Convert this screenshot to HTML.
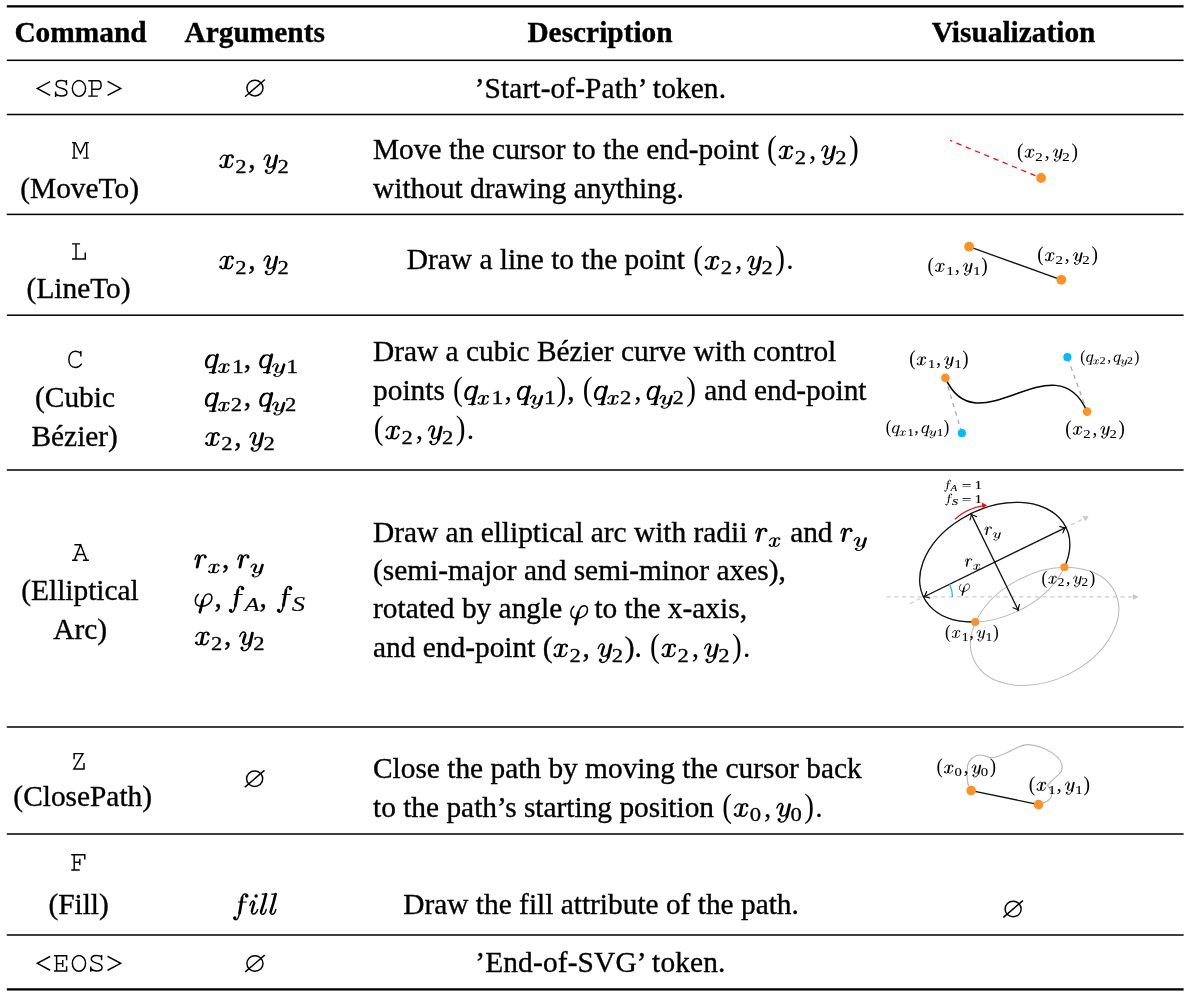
<!DOCTYPE html>
<html><head><meta charset="utf-8"><style>
html,body{margin:0;padding:0;background:#fff;}
body{width:1193px;height:1005px;overflow:hidden;}
svg{display:block;will-change:transform;}
text{fill:#000;font-family:"Liberation Serif",serif;white-space:pre;stroke:#000;stroke-width:0.35px;}
</style></head><body>
<svg width="1193" height="1005" viewBox="0 0 1193 1005">
<rect x="6.8" y="5.20" width="1176.80" height="2.3" fill="#000"/>
<rect x="6.8" y="59.55" width="1176.80" height="1.5" fill="#000"/>
<rect x="6.8" y="113.75" width="1176.80" height="1.5" fill="#000"/>
<rect x="6.8" y="213.65" width="1176.80" height="1.5" fill="#000"/>
<rect x="6.8" y="314.45" width="1176.80" height="1.5" fill="#000"/>
<rect x="6.8" y="469.25" width="1176.80" height="1.5" fill="#000"/>
<rect x="6.8" y="726.25" width="1176.80" height="1.5" fill="#000"/>
<rect x="6.8" y="833.25" width="1176.80" height="1.5" fill="#000"/>
<rect x="6.8" y="934.25" width="1176.80" height="1.5" fill="#000"/>
<rect x="6.8" y="988.25" width="1176.80" height="2.3" fill="#000"/>
<text x="80.50" y="42.00" font-size="29.38" text-anchor="middle" font-weight="bold">Command</text>
<text x="254.70" y="42.00" font-size="29.38" text-anchor="middle" font-weight="bold">Arguments</text>
<text x="600.00" y="42.00" font-size="29.38" text-anchor="middle" font-weight="bold">Description</text>
<text x="1013.60" y="42.00" font-size="29.38" text-anchor="middle" font-weight="bold">Visualization</text>
<g fill="none" stroke="#000" stroke-width="1.45" stroke-linecap="square" stroke-linejoin="miter"><path transform="translate(43.84,96.80)" d="M5.66,-14.9 L-6.54,-8.4 L5.66,-1.8"/><path transform="translate(61.42,96.80)" d="M5.0,-12.3 L5.0,-16.0 M5.0,-14.6 C3.8,-15.8 2.0,-16.3 0,-16.3 C-3.5,-16.3 -5.3,-14.6 -5.3,-12.6 C-5.3,-10.2 -3.2,-9.4 0,-8.6 C3.6,-7.8 5.5,-6.8 5.5,-4.3 C5.5,-1.9 3.3,-0.8 0,-0.8 C-2.6,-0.8 -4.6,-1.6 -5.8,-3.2 M-5.8,-4.5 L-5.8,-0.6"/><path transform="translate(79.00,96.80)" d="M6.55,-8.35 A6.6,7.9 0 1 1 -6.65,-8.35 A6.6,7.9 0 1 1 6.55,-8.35"/><path transform="translate(96.58,96.80)" d="M-7.6,-16.1 L1.5,-16.1 C3.6,-16.1 4.5,-14 4.5,-11.8 C4.5,-9.6 3.5,-7.5 1.5,-7.5 L-4.7,-7.5 M-4.7,-16.1 L-4.7,-0.7 M-7.6,-0.7 L0.5,-0.7"/><path transform="translate(114.16,96.80)" d="M-5.96,-15.1 L6.54,-8.4 L-5.96,-1.8"/></g>
<g stroke="#000" stroke-width="1.45" fill="none" stroke-linecap="round"><ellipse cx="254.95" cy="88.1" rx="8.05" ry="7.81"/><line x1="245.55" y1="96.20" x2="264.40" y2="80.00"/></g>
<text x="600.35" y="97.70" font-size="29.38" text-anchor="middle" textLength="251.25">’Start-of-Path’ token.</text>
<g fill="none" stroke="#000" stroke-width="1.45" stroke-linecap="square" stroke-linejoin="miter"><path transform="translate(80.40,158.90)" d="M-7.7,-16.3 L-5.0,-16.3 L0,-5.7 L5.0,-16.3 L7.7,-16.3 M-6.3,-16.3 L-6.3,-0.8 M6.3,-16.3 L6.3,-0.8 M-7.7,-0.8 L-3.45,-0.8 M3.45,-0.8 L7.7,-0.8"/></g>
<text x="79.60" y="197.90" font-size="29.38" text-anchor="middle">(MoveTo)</text>
<g transform="translate(218.30,167.80) scale(29.380,29.380)" fill="none" stroke="#000" stroke-linecap="round"><path d="M0.068,-0.289 C0.10,-0.36 0.16,-0.432 0.225,-0.432 C0.27,-0.432 0.30,-0.41 0.310,-0.378" stroke-width="0.0460"/><path d="M0.312,-0.372 C0.29,-0.27 0.265,-0.16 0.248,-0.062" stroke-width="0.0980"/><path d="M0.250,-0.06 C0.23,-0.02 0.19,-0.010 0.140,-0.010 C0.105,-0.010 0.085,-0.03 0.080,-0.06" stroke-width="0.0460"/><circle cx="0.08" cy="-0.072" r="0.0500" fill="#000" stroke="none"/><path d="M0.252,-0.06 C0.27,-0.025 0.30,-0.010 0.334,-0.010 C0.41,-0.010 0.47,-0.09 0.487,-0.153" stroke-width="0.0460"/><path d="M0.308,-0.37 C0.33,-0.41 0.38,-0.436 0.432,-0.436 C0.47,-0.436 0.492,-0.415 0.490,-0.39" stroke-width="0.0460"/><circle cx="0.485" cy="-0.368" r="0.0490" fill="#000" stroke="none"/></g>
<text transform="translate(240.94,172.62) scale(1.1,0.95)" font-size="20.57" text-anchor="middle" style="stroke-width:0.3px">2</text>
<text x="248.27" y="167.80" font-size="29.38">, </text>
<g transform="translate(262.96,167.80) scale(29.380,29.380)" fill="none" stroke="#000" stroke-linecap="round"><path d="M0.036,-0.286 C0.07,-0.38 0.12,-0.442 0.17,-0.442 C0.215,-0.442 0.238,-0.41 0.228,-0.35" stroke-width="0.0460"/><path d="M0.226,-0.345 C0.20,-0.25 0.16,-0.16 0.155,-0.10" stroke-width="0.0882"/><path d="M0.155,-0.10 C0.150,-0.04 0.175,-0.016 0.222,-0.016 C0.28,-0.016 0.33,-0.05 0.352,-0.085" stroke-width="0.0450"/><path d="M0.468,-0.405 L0.372,0.015" stroke-width="0.0980"/><path d="M0.374,0.01 C0.345,0.12 0.265,0.19 0.185,0.19 C0.135,0.19 0.105,0.165 0.100,0.125" stroke-width="0.0450"/><circle cx="0.112" cy="0.105" r="0.0540" fill="#000" stroke="none"/></g>
<text transform="translate(283.21,172.62) scale(1.1,0.95)" font-size="20.57" text-anchor="middle" style="stroke-width:0.3px">2</text>
<text x="373.00" y="158.90" font-size="29.38">Move the cursor to the end-point </text>
<text transform="translate(771.92,158.90) scale(1.0,1.12)" font-size="29.38" text-anchor="middle" style="stroke-width:0.0px">(</text>
<g transform="translate(777.63,158.90) scale(29.380,29.380)" fill="none" stroke="#000" stroke-linecap="round"><path d="M0.068,-0.289 C0.10,-0.36 0.16,-0.432 0.225,-0.432 C0.27,-0.432 0.30,-0.41 0.310,-0.378" stroke-width="0.0460"/><path d="M0.312,-0.372 C0.29,-0.27 0.265,-0.16 0.248,-0.062" stroke-width="0.0980"/><path d="M0.250,-0.06 C0.23,-0.02 0.19,-0.010 0.140,-0.010 C0.105,-0.010 0.085,-0.03 0.080,-0.06" stroke-width="0.0460"/><circle cx="0.08" cy="-0.072" r="0.0500" fill="#000" stroke="none"/><path d="M0.252,-0.06 C0.27,-0.025 0.30,-0.010 0.334,-0.010 C0.41,-0.010 0.47,-0.09 0.487,-0.153" stroke-width="0.0460"/><path d="M0.308,-0.37 C0.33,-0.41 0.38,-0.436 0.432,-0.436 C0.47,-0.436 0.492,-0.415 0.490,-0.39" stroke-width="0.0460"/><circle cx="0.485" cy="-0.368" r="0.0490" fill="#000" stroke="none"/></g>
<text transform="translate(800.28,163.72) scale(1.1,0.95)" font-size="20.57" text-anchor="middle" style="stroke-width:0.3px">2</text>
<text x="812.56" y="158.90" font-size="29.38" text-anchor="middle" style="stroke-width:0.12px">,</text>
<g transform="translate(820.66,158.90) scale(29.380,29.380)" fill="none" stroke="#000" stroke-linecap="round"><path d="M0.036,-0.286 C0.07,-0.38 0.12,-0.442 0.17,-0.442 C0.215,-0.442 0.238,-0.41 0.228,-0.35" stroke-width="0.0460"/><path d="M0.226,-0.345 C0.20,-0.25 0.16,-0.16 0.155,-0.10" stroke-width="0.0882"/><path d="M0.155,-0.10 C0.150,-0.04 0.175,-0.016 0.222,-0.016 C0.28,-0.016 0.33,-0.05 0.352,-0.085" stroke-width="0.0450"/><path d="M0.468,-0.405 L0.372,0.015" stroke-width="0.0980"/><path d="M0.374,0.01 C0.345,0.12 0.265,0.19 0.185,0.19 C0.135,0.19 0.105,0.165 0.100,0.125" stroke-width="0.0450"/><circle cx="0.112" cy="0.105" r="0.0540" fill="#000" stroke="none"/></g>
<text transform="translate(840.92,163.72) scale(1.1,0.95)" font-size="20.57" text-anchor="middle" style="stroke-width:0.3px">2</text>
<text transform="translate(853.95,158.90) scale(1.0,1.12)" font-size="29.38" text-anchor="middle" style="stroke-width:0.0px">)</text>
<text x="373.00" y="197.90" font-size="29.38">without drawing anything.</text>
<g fill="none" stroke="#000" stroke-width="1.45" stroke-linecap="square" stroke-linejoin="miter"><path transform="translate(80.20,259.75)" d="M-7.5,-15.9 L-0.85,-15.9 M-4.2,-15.9 L-4.2,-0.8 M-7.5,-0.8 L5.05,-0.8 L5.05,-6.6"/></g>
<text x="78.60" y="298.30" font-size="29.38" text-anchor="middle">(LineTo)</text>
<g transform="translate(218.30,269.00) scale(29.380,29.380)" fill="none" stroke="#000" stroke-linecap="round"><path d="M0.068,-0.289 C0.10,-0.36 0.16,-0.432 0.225,-0.432 C0.27,-0.432 0.30,-0.41 0.310,-0.378" stroke-width="0.0460"/><path d="M0.312,-0.372 C0.29,-0.27 0.265,-0.16 0.248,-0.062" stroke-width="0.0980"/><path d="M0.250,-0.06 C0.23,-0.02 0.19,-0.010 0.140,-0.010 C0.105,-0.010 0.085,-0.03 0.080,-0.06" stroke-width="0.0460"/><circle cx="0.08" cy="-0.072" r="0.0500" fill="#000" stroke="none"/><path d="M0.252,-0.06 C0.27,-0.025 0.30,-0.010 0.334,-0.010 C0.41,-0.010 0.47,-0.09 0.487,-0.153" stroke-width="0.0460"/><path d="M0.308,-0.37 C0.33,-0.41 0.38,-0.436 0.432,-0.436 C0.47,-0.436 0.492,-0.415 0.490,-0.39" stroke-width="0.0460"/><circle cx="0.485" cy="-0.368" r="0.0490" fill="#000" stroke="none"/></g>
<text transform="translate(240.94,273.82) scale(1.1,0.95)" font-size="20.57" text-anchor="middle" style="stroke-width:0.3px">2</text>
<text x="248.27" y="269.00" font-size="29.38">, </text>
<g transform="translate(262.96,269.00) scale(29.380,29.380)" fill="none" stroke="#000" stroke-linecap="round"><path d="M0.036,-0.286 C0.07,-0.38 0.12,-0.442 0.17,-0.442 C0.215,-0.442 0.238,-0.41 0.228,-0.35" stroke-width="0.0460"/><path d="M0.226,-0.345 C0.20,-0.25 0.16,-0.16 0.155,-0.10" stroke-width="0.0882"/><path d="M0.155,-0.10 C0.150,-0.04 0.175,-0.016 0.222,-0.016 C0.28,-0.016 0.33,-0.05 0.352,-0.085" stroke-width="0.0450"/><path d="M0.468,-0.405 L0.372,0.015" stroke-width="0.0980"/><path d="M0.374,0.01 C0.345,0.12 0.265,0.19 0.185,0.19 C0.135,0.19 0.105,0.165 0.100,0.125" stroke-width="0.0450"/><circle cx="0.112" cy="0.105" r="0.0540" fill="#000" stroke="none"/></g>
<text transform="translate(283.21,273.82) scale(1.1,0.95)" font-size="20.57" text-anchor="middle" style="stroke-width:0.3px">2</text>
<text x="406.80" y="269.30" font-size="29.38">Draw a line to the point </text>
<text transform="translate(698.03,269.30) scale(1.0,1.12)" font-size="29.38" text-anchor="middle" style="stroke-width:0.0px">(</text>
<g transform="translate(703.74,269.30) scale(29.380,29.380)" fill="none" stroke="#000" stroke-linecap="round"><path d="M0.068,-0.289 C0.10,-0.36 0.16,-0.432 0.225,-0.432 C0.27,-0.432 0.30,-0.41 0.310,-0.378" stroke-width="0.0460"/><path d="M0.312,-0.372 C0.29,-0.27 0.265,-0.16 0.248,-0.062" stroke-width="0.0980"/><path d="M0.250,-0.06 C0.23,-0.02 0.19,-0.010 0.140,-0.010 C0.105,-0.010 0.085,-0.03 0.080,-0.06" stroke-width="0.0460"/><circle cx="0.08" cy="-0.072" r="0.0500" fill="#000" stroke="none"/><path d="M0.252,-0.06 C0.27,-0.025 0.30,-0.010 0.334,-0.010 C0.41,-0.010 0.47,-0.09 0.487,-0.153" stroke-width="0.0460"/><path d="M0.308,-0.37 C0.33,-0.41 0.38,-0.436 0.432,-0.436 C0.47,-0.436 0.492,-0.415 0.490,-0.39" stroke-width="0.0460"/><circle cx="0.485" cy="-0.368" r="0.0490" fill="#000" stroke="none"/></g>
<text transform="translate(726.39,274.12) scale(1.1,0.95)" font-size="20.57" text-anchor="middle" style="stroke-width:0.3px">2</text>
<text x="738.67" y="269.30" font-size="29.38" text-anchor="middle" style="stroke-width:0.12px">,</text>
<g transform="translate(746.77,269.30) scale(29.380,29.380)" fill="none" stroke="#000" stroke-linecap="round"><path d="M0.036,-0.286 C0.07,-0.38 0.12,-0.442 0.17,-0.442 C0.215,-0.442 0.238,-0.41 0.228,-0.35" stroke-width="0.0460"/><path d="M0.226,-0.345 C0.20,-0.25 0.16,-0.16 0.155,-0.10" stroke-width="0.0882"/><path d="M0.155,-0.10 C0.150,-0.04 0.175,-0.016 0.222,-0.016 C0.28,-0.016 0.33,-0.05 0.352,-0.085" stroke-width="0.0450"/><path d="M0.468,-0.405 L0.372,0.015" stroke-width="0.0980"/><path d="M0.374,0.01 C0.345,0.12 0.265,0.19 0.185,0.19 C0.135,0.19 0.105,0.165 0.100,0.125" stroke-width="0.0450"/><circle cx="0.112" cy="0.105" r="0.0540" fill="#000" stroke="none"/></g>
<text transform="translate(767.03,274.12) scale(1.1,0.95)" font-size="20.57" text-anchor="middle" style="stroke-width:0.3px">2</text>
<text transform="translate(780.06,269.30) scale(1.0,1.12)" font-size="29.38" text-anchor="middle" style="stroke-width:0.0px">)</text>
<text x="789.86" y="269.30" font-size="29.38" text-anchor="middle" style="stroke-width:0.12px">.</text>
<g fill="none" stroke="#000" stroke-width="1.45" stroke-linecap="square" stroke-linejoin="miter"><path transform="translate(75.20,367.90)" d="M5.65,-12.2 L5.65,-16.2 M5.65,-14.4 C4.3,-16 2.5,-16.65 0.2,-16.65 C-4,-16.65 -6.35,-12.9 -6.35,-8.5 C-6.35,-3.7 -3.8,-0.45 0.2,-0.45 C2.7,-0.45 4.6,-1.6 6.0,-3.6"/></g>
<text x="75.00" y="406.60" font-size="29.38" text-anchor="middle">(Cubic</text>
<text x="74.70" y="445.50" font-size="29.38" text-anchor="middle">Bézier)</text>
<g transform="translate(204.20,367.90) scale(29.380,29.380)" fill="none" stroke="#000" stroke-linecap="round"><path d="M0.405,-0.36 C0.385,-0.42 0.335,-0.445 0.29,-0.445 C0.15,-0.445 0.06,-0.27 0.06,-0.15 C0.06,-0.07 0.105,-0.014 0.18,-0.014 C0.26,-0.014 0.33,-0.08 0.37,-0.13" stroke-width="0.0460"/><path d="M0.19,-0.415 C0.11,-0.35 0.065,-0.24 0.065,-0.15 C0.065,-0.09 0.08,-0.05 0.11,-0.03" stroke-width="0.0833"/><path d="M0.452,-0.44 L0.302,0.155" stroke-width="0.0980"/><path d="M0.175,0.163 L0.395,0.163" stroke-width="0.0420"/></g>
<g transform="translate(217.31,372.72) scale(23.355,20.566)" fill="none" stroke="#000" stroke-linecap="round"><path d="M0.068,-0.289 C0.10,-0.36 0.16,-0.432 0.225,-0.432 C0.27,-0.432 0.30,-0.41 0.310,-0.378" stroke-width="0.0460"/><path d="M0.312,-0.372 C0.29,-0.27 0.265,-0.16 0.248,-0.062" stroke-width="0.0980"/><path d="M0.250,-0.06 C0.23,-0.02 0.19,-0.010 0.140,-0.010 C0.105,-0.010 0.085,-0.03 0.080,-0.06" stroke-width="0.0460"/><circle cx="0.08" cy="-0.072" r="0.0500" fill="#000" stroke="none"/><path d="M0.252,-0.06 C0.27,-0.025 0.30,-0.010 0.334,-0.010 C0.41,-0.010 0.47,-0.09 0.487,-0.153" stroke-width="0.0460"/><path d="M0.308,-0.37 C0.33,-0.41 0.38,-0.436 0.432,-0.436 C0.47,-0.436 0.492,-0.415 0.490,-0.39" stroke-width="0.0460"/><circle cx="0.485" cy="-0.368" r="0.0490" fill="#000" stroke="none"/></g>
<text transform="translate(237.95,372.72) scale(1.15,0.95)" font-size="20.57" text-anchor="middle" style="stroke-width:0.3px">1</text>
<text x="243.83" y="367.90" font-size="29.38">, </text>
<g transform="translate(258.52,367.90) scale(29.380,29.380)" fill="none" stroke="#000" stroke-linecap="round"><path d="M0.405,-0.36 C0.385,-0.42 0.335,-0.445 0.29,-0.445 C0.15,-0.445 0.06,-0.27 0.06,-0.15 C0.06,-0.07 0.105,-0.014 0.18,-0.014 C0.26,-0.014 0.33,-0.08 0.37,-0.13" stroke-width="0.0460"/><path d="M0.19,-0.415 C0.11,-0.35 0.065,-0.24 0.065,-0.15 C0.065,-0.09 0.08,-0.05 0.11,-0.03" stroke-width="0.0833"/><path d="M0.452,-0.44 L0.302,0.155" stroke-width="0.0980"/><path d="M0.175,0.163 L0.395,0.163" stroke-width="0.0420"/></g>
<g transform="translate(271.62,372.72) scale(26.845,20.566)" fill="none" stroke="#000" stroke-linecap="round"><path d="M0.036,-0.286 C0.07,-0.38 0.12,-0.442 0.17,-0.442 C0.215,-0.442 0.238,-0.41 0.228,-0.35" stroke-width="0.0460"/><path d="M0.226,-0.345 C0.20,-0.25 0.16,-0.16 0.155,-0.10" stroke-width="0.0882"/><path d="M0.155,-0.10 C0.150,-0.04 0.175,-0.016 0.222,-0.016 C0.28,-0.016 0.33,-0.05 0.352,-0.085" stroke-width="0.0450"/><path d="M0.468,-0.405 L0.372,0.015" stroke-width="0.0980"/><path d="M0.374,0.01 C0.345,0.12 0.265,0.19 0.185,0.19 C0.135,0.19 0.105,0.165 0.100,0.125" stroke-width="0.0450"/><circle cx="0.112" cy="0.105" r="0.0540" fill="#000" stroke="none"/></g>
<text transform="translate(292.08,372.72) scale(1.15,0.95)" font-size="20.57" text-anchor="middle" style="stroke-width:0.3px">1</text>
<g transform="translate(204.20,406.30) scale(29.380,29.380)" fill="none" stroke="#000" stroke-linecap="round"><path d="M0.405,-0.36 C0.385,-0.42 0.335,-0.445 0.29,-0.445 C0.15,-0.445 0.06,-0.27 0.06,-0.15 C0.06,-0.07 0.105,-0.014 0.18,-0.014 C0.26,-0.014 0.33,-0.08 0.37,-0.13" stroke-width="0.0460"/><path d="M0.19,-0.415 C0.11,-0.35 0.065,-0.24 0.065,-0.15 C0.065,-0.09 0.08,-0.05 0.11,-0.03" stroke-width="0.0833"/><path d="M0.452,-0.44 L0.302,0.155" stroke-width="0.0980"/><path d="M0.175,0.163 L0.395,0.163" stroke-width="0.0420"/></g>
<g transform="translate(217.31,411.12) scale(23.355,20.566)" fill="none" stroke="#000" stroke-linecap="round"><path d="M0.068,-0.289 C0.10,-0.36 0.16,-0.432 0.225,-0.432 C0.27,-0.432 0.30,-0.41 0.310,-0.378" stroke-width="0.0460"/><path d="M0.312,-0.372 C0.29,-0.27 0.265,-0.16 0.248,-0.062" stroke-width="0.0980"/><path d="M0.250,-0.06 C0.23,-0.02 0.19,-0.010 0.140,-0.010 C0.105,-0.010 0.085,-0.03 0.080,-0.06" stroke-width="0.0460"/><circle cx="0.08" cy="-0.072" r="0.0500" fill="#000" stroke="none"/><path d="M0.252,-0.06 C0.27,-0.025 0.30,-0.010 0.334,-0.010 C0.41,-0.010 0.47,-0.09 0.487,-0.153" stroke-width="0.0460"/><path d="M0.308,-0.37 C0.33,-0.41 0.38,-0.436 0.432,-0.436 C0.47,-0.436 0.492,-0.415 0.490,-0.39" stroke-width="0.0460"/><circle cx="0.485" cy="-0.368" r="0.0490" fill="#000" stroke="none"/></g>
<text transform="translate(236.51,411.12) scale(1.1,0.95)" font-size="20.57" text-anchor="middle" style="stroke-width:0.3px">2</text>
<text x="243.83" y="406.30" font-size="29.38">, </text>
<g transform="translate(258.52,406.30) scale(29.380,29.380)" fill="none" stroke="#000" stroke-linecap="round"><path d="M0.405,-0.36 C0.385,-0.42 0.335,-0.445 0.29,-0.445 C0.15,-0.445 0.06,-0.27 0.06,-0.15 C0.06,-0.07 0.105,-0.014 0.18,-0.014 C0.26,-0.014 0.33,-0.08 0.37,-0.13" stroke-width="0.0460"/><path d="M0.19,-0.415 C0.11,-0.35 0.065,-0.24 0.065,-0.15 C0.065,-0.09 0.08,-0.05 0.11,-0.03" stroke-width="0.0833"/><path d="M0.452,-0.44 L0.302,0.155" stroke-width="0.0980"/><path d="M0.175,0.163 L0.395,0.163" stroke-width="0.0420"/></g>
<g transform="translate(271.62,411.12) scale(26.845,20.566)" fill="none" stroke="#000" stroke-linecap="round"><path d="M0.036,-0.286 C0.07,-0.38 0.12,-0.442 0.17,-0.442 C0.215,-0.442 0.238,-0.41 0.228,-0.35" stroke-width="0.0460"/><path d="M0.226,-0.345 C0.20,-0.25 0.16,-0.16 0.155,-0.10" stroke-width="0.0882"/><path d="M0.155,-0.10 C0.150,-0.04 0.175,-0.016 0.222,-0.016 C0.28,-0.016 0.33,-0.05 0.352,-0.085" stroke-width="0.0450"/><path d="M0.468,-0.405 L0.372,0.015" stroke-width="0.0980"/><path d="M0.374,0.01 C0.345,0.12 0.265,0.19 0.185,0.19 C0.135,0.19 0.105,0.165 0.100,0.125" stroke-width="0.0450"/><circle cx="0.112" cy="0.105" r="0.0540" fill="#000" stroke="none"/></g>
<text transform="translate(290.64,411.12) scale(1.1,0.95)" font-size="20.57" text-anchor="middle" style="stroke-width:0.3px">2</text>
<g transform="translate(204.20,445.60) scale(29.380,29.380)" fill="none" stroke="#000" stroke-linecap="round"><path d="M0.068,-0.289 C0.10,-0.36 0.16,-0.432 0.225,-0.432 C0.27,-0.432 0.30,-0.41 0.310,-0.378" stroke-width="0.0460"/><path d="M0.312,-0.372 C0.29,-0.27 0.265,-0.16 0.248,-0.062" stroke-width="0.0980"/><path d="M0.250,-0.06 C0.23,-0.02 0.19,-0.010 0.140,-0.010 C0.105,-0.010 0.085,-0.03 0.080,-0.06" stroke-width="0.0460"/><circle cx="0.08" cy="-0.072" r="0.0500" fill="#000" stroke="none"/><path d="M0.252,-0.06 C0.27,-0.025 0.30,-0.010 0.334,-0.010 C0.41,-0.010 0.47,-0.09 0.487,-0.153" stroke-width="0.0460"/><path d="M0.308,-0.37 C0.33,-0.41 0.38,-0.436 0.432,-0.436 C0.47,-0.436 0.492,-0.415 0.490,-0.39" stroke-width="0.0460"/><circle cx="0.485" cy="-0.368" r="0.0490" fill="#000" stroke="none"/></g>
<text transform="translate(226.84,450.42) scale(1.1,0.95)" font-size="20.57" text-anchor="middle" style="stroke-width:0.3px">2</text>
<text x="234.17" y="445.60" font-size="29.38">, </text>
<g transform="translate(248.86,445.60) scale(29.380,29.380)" fill="none" stroke="#000" stroke-linecap="round"><path d="M0.036,-0.286 C0.07,-0.38 0.12,-0.442 0.17,-0.442 C0.215,-0.442 0.238,-0.41 0.228,-0.35" stroke-width="0.0460"/><path d="M0.226,-0.345 C0.20,-0.25 0.16,-0.16 0.155,-0.10" stroke-width="0.0882"/><path d="M0.155,-0.10 C0.150,-0.04 0.175,-0.016 0.222,-0.016 C0.28,-0.016 0.33,-0.05 0.352,-0.085" stroke-width="0.0450"/><path d="M0.468,-0.405 L0.372,0.015" stroke-width="0.0980"/><path d="M0.374,0.01 C0.345,0.12 0.265,0.19 0.185,0.19 C0.135,0.19 0.105,0.165 0.100,0.125" stroke-width="0.0450"/><circle cx="0.112" cy="0.105" r="0.0540" fill="#000" stroke="none"/></g>
<text transform="translate(269.11,450.42) scale(1.1,0.95)" font-size="20.57" text-anchor="middle" style="stroke-width:0.3px">2</text>
<text x="373.00" y="360.70" font-size="29.38">Draw a cubic Bézier curve with control</text>
<text x="373.00" y="399.60" font-size="29.38">points </text>
<text transform="translate(457.87,399.60) scale(1.0,1.12)" font-size="29.38" text-anchor="middle" style="stroke-width:0.0px">(</text>
<g transform="translate(463.59,399.60) scale(29.380,29.380)" fill="none" stroke="#000" stroke-linecap="round"><path d="M0.405,-0.36 C0.385,-0.42 0.335,-0.445 0.29,-0.445 C0.15,-0.445 0.06,-0.27 0.06,-0.15 C0.06,-0.07 0.105,-0.014 0.18,-0.014 C0.26,-0.014 0.33,-0.08 0.37,-0.13" stroke-width="0.0460"/><path d="M0.19,-0.415 C0.11,-0.35 0.065,-0.24 0.065,-0.15 C0.065,-0.09 0.08,-0.05 0.11,-0.03" stroke-width="0.0833"/><path d="M0.452,-0.44 L0.302,0.155" stroke-width="0.0980"/><path d="M0.175,0.163 L0.395,0.163" stroke-width="0.0420"/></g>
<g transform="translate(476.69,404.42) scale(23.355,20.566)" fill="none" stroke="#000" stroke-linecap="round"><path d="M0.068,-0.289 C0.10,-0.36 0.16,-0.432 0.225,-0.432 C0.27,-0.432 0.30,-0.41 0.310,-0.378" stroke-width="0.0460"/><path d="M0.312,-0.372 C0.29,-0.27 0.265,-0.16 0.248,-0.062" stroke-width="0.0980"/><path d="M0.250,-0.06 C0.23,-0.02 0.19,-0.010 0.140,-0.010 C0.105,-0.010 0.085,-0.03 0.080,-0.06" stroke-width="0.0460"/><circle cx="0.08" cy="-0.072" r="0.0500" fill="#000" stroke="none"/><path d="M0.252,-0.06 C0.27,-0.025 0.30,-0.010 0.334,-0.010 C0.41,-0.010 0.47,-0.09 0.487,-0.153" stroke-width="0.0460"/><path d="M0.308,-0.37 C0.33,-0.41 0.38,-0.436 0.432,-0.436 C0.47,-0.436 0.492,-0.415 0.490,-0.39" stroke-width="0.0460"/><circle cx="0.485" cy="-0.368" r="0.0490" fill="#000" stroke="none"/></g>
<text transform="translate(497.33,404.42) scale(1.15,0.95)" font-size="20.57" text-anchor="middle" style="stroke-width:0.3px">1</text>
<text x="508.18" y="399.60" font-size="29.38" text-anchor="middle" style="stroke-width:0.12px">,</text>
<g transform="translate(516.28,399.60) scale(29.380,29.380)" fill="none" stroke="#000" stroke-linecap="round"><path d="M0.405,-0.36 C0.385,-0.42 0.335,-0.445 0.29,-0.445 C0.15,-0.445 0.06,-0.27 0.06,-0.15 C0.06,-0.07 0.105,-0.014 0.18,-0.014 C0.26,-0.014 0.33,-0.08 0.37,-0.13" stroke-width="0.0460"/><path d="M0.19,-0.415 C0.11,-0.35 0.065,-0.24 0.065,-0.15 C0.065,-0.09 0.08,-0.05 0.11,-0.03" stroke-width="0.0833"/><path d="M0.452,-0.44 L0.302,0.155" stroke-width="0.0980"/><path d="M0.175,0.163 L0.395,0.163" stroke-width="0.0420"/></g>
<g transform="translate(529.38,404.42) scale(26.845,20.566)" fill="none" stroke="#000" stroke-linecap="round"><path d="M0.036,-0.286 C0.07,-0.38 0.12,-0.442 0.17,-0.442 C0.215,-0.442 0.238,-0.41 0.228,-0.35" stroke-width="0.0460"/><path d="M0.226,-0.345 C0.20,-0.25 0.16,-0.16 0.155,-0.10" stroke-width="0.0882"/><path d="M0.155,-0.10 C0.150,-0.04 0.175,-0.016 0.222,-0.016 C0.28,-0.016 0.33,-0.05 0.352,-0.085" stroke-width="0.0450"/><path d="M0.468,-0.405 L0.372,0.015" stroke-width="0.0980"/><path d="M0.374,0.01 C0.345,0.12 0.265,0.19 0.185,0.19 C0.135,0.19 0.105,0.165 0.100,0.125" stroke-width="0.0450"/><circle cx="0.112" cy="0.105" r="0.0540" fill="#000" stroke="none"/></g>
<text transform="translate(549.84,404.42) scale(1.15,0.95)" font-size="20.57" text-anchor="middle" style="stroke-width:0.3px">1</text>
<text transform="translate(561.43,399.60) scale(1.0,1.12)" font-size="29.38" text-anchor="middle" style="stroke-width:0.0px">)</text>
<text x="567.15" y="399.60" font-size="29.38">, </text>
<text transform="translate(587.55,399.60) scale(1.0,1.12)" font-size="29.38" text-anchor="middle" style="stroke-width:0.0px">(</text>
<g transform="translate(593.26,399.60) scale(29.380,29.380)" fill="none" stroke="#000" stroke-linecap="round"><path d="M0.405,-0.36 C0.385,-0.42 0.335,-0.445 0.29,-0.445 C0.15,-0.445 0.06,-0.27 0.06,-0.15 C0.06,-0.07 0.105,-0.014 0.18,-0.014 C0.26,-0.014 0.33,-0.08 0.37,-0.13" stroke-width="0.0460"/><path d="M0.19,-0.415 C0.11,-0.35 0.065,-0.24 0.065,-0.15 C0.065,-0.09 0.08,-0.05 0.11,-0.03" stroke-width="0.0833"/><path d="M0.452,-0.44 L0.302,0.155" stroke-width="0.0980"/><path d="M0.175,0.163 L0.395,0.163" stroke-width="0.0420"/></g>
<g transform="translate(606.37,404.42) scale(23.355,20.566)" fill="none" stroke="#000" stroke-linecap="round"><path d="M0.068,-0.289 C0.10,-0.36 0.16,-0.432 0.225,-0.432 C0.27,-0.432 0.30,-0.41 0.310,-0.378" stroke-width="0.0460"/><path d="M0.312,-0.372 C0.29,-0.27 0.265,-0.16 0.248,-0.062" stroke-width="0.0980"/><path d="M0.250,-0.06 C0.23,-0.02 0.19,-0.010 0.140,-0.010 C0.105,-0.010 0.085,-0.03 0.080,-0.06" stroke-width="0.0460"/><circle cx="0.08" cy="-0.072" r="0.0500" fill="#000" stroke="none"/><path d="M0.252,-0.06 C0.27,-0.025 0.30,-0.010 0.334,-0.010 C0.41,-0.010 0.47,-0.09 0.487,-0.153" stroke-width="0.0460"/><path d="M0.308,-0.37 C0.33,-0.41 0.38,-0.436 0.432,-0.436 C0.47,-0.436 0.492,-0.415 0.490,-0.39" stroke-width="0.0460"/><circle cx="0.485" cy="-0.368" r="0.0490" fill="#000" stroke="none"/></g>
<text transform="translate(625.57,404.42) scale(1.1,0.95)" font-size="20.57" text-anchor="middle" style="stroke-width:0.3px">2</text>
<text x="637.85" y="399.60" font-size="29.38" text-anchor="middle" style="stroke-width:0.12px">,</text>
<g transform="translate(645.95,399.60) scale(29.380,29.380)" fill="none" stroke="#000" stroke-linecap="round"><path d="M0.405,-0.36 C0.385,-0.42 0.335,-0.445 0.29,-0.445 C0.15,-0.445 0.06,-0.27 0.06,-0.15 C0.06,-0.07 0.105,-0.014 0.18,-0.014 C0.26,-0.014 0.33,-0.08 0.37,-0.13" stroke-width="0.0460"/><path d="M0.19,-0.415 C0.11,-0.35 0.065,-0.24 0.065,-0.15 C0.065,-0.09 0.08,-0.05 0.11,-0.03" stroke-width="0.0833"/><path d="M0.452,-0.44 L0.302,0.155" stroke-width="0.0980"/><path d="M0.175,0.163 L0.395,0.163" stroke-width="0.0420"/></g>
<g transform="translate(659.06,404.42) scale(26.845,20.566)" fill="none" stroke="#000" stroke-linecap="round"><path d="M0.036,-0.286 C0.07,-0.38 0.12,-0.442 0.17,-0.442 C0.215,-0.442 0.238,-0.41 0.228,-0.35" stroke-width="0.0460"/><path d="M0.226,-0.345 C0.20,-0.25 0.16,-0.16 0.155,-0.10" stroke-width="0.0882"/><path d="M0.155,-0.10 C0.150,-0.04 0.175,-0.016 0.222,-0.016 C0.28,-0.016 0.33,-0.05 0.352,-0.085" stroke-width="0.0450"/><path d="M0.468,-0.405 L0.372,0.015" stroke-width="0.0980"/><path d="M0.374,0.01 C0.345,0.12 0.265,0.19 0.185,0.19 C0.135,0.19 0.105,0.165 0.100,0.125" stroke-width="0.0450"/><circle cx="0.112" cy="0.105" r="0.0540" fill="#000" stroke="none"/></g>
<text transform="translate(678.07,404.42) scale(1.1,0.95)" font-size="20.57" text-anchor="middle" style="stroke-width:0.3px">2</text>
<text transform="translate(691.11,399.60) scale(1.0,1.12)" font-size="29.38" text-anchor="middle" style="stroke-width:0.0px">)</text>
<text x="696.82" y="399.60" font-size="29.38"> and end-point</text>
<text transform="translate(378.71,439.00) scale(1.0,1.12)" font-size="29.38" text-anchor="middle" style="stroke-width:0.0px">(</text>
<g transform="translate(384.43,439.00) scale(29.380,29.380)" fill="none" stroke="#000" stroke-linecap="round"><path d="M0.068,-0.289 C0.10,-0.36 0.16,-0.432 0.225,-0.432 C0.27,-0.432 0.30,-0.41 0.310,-0.378" stroke-width="0.0460"/><path d="M0.312,-0.372 C0.29,-0.27 0.265,-0.16 0.248,-0.062" stroke-width="0.0980"/><path d="M0.250,-0.06 C0.23,-0.02 0.19,-0.010 0.140,-0.010 C0.105,-0.010 0.085,-0.03 0.080,-0.06" stroke-width="0.0460"/><circle cx="0.08" cy="-0.072" r="0.0500" fill="#000" stroke="none"/><path d="M0.252,-0.06 C0.27,-0.025 0.30,-0.010 0.334,-0.010 C0.41,-0.010 0.47,-0.09 0.487,-0.153" stroke-width="0.0460"/><path d="M0.308,-0.37 C0.33,-0.41 0.38,-0.436 0.432,-0.436 C0.47,-0.436 0.492,-0.415 0.490,-0.39" stroke-width="0.0460"/><circle cx="0.485" cy="-0.368" r="0.0490" fill="#000" stroke="none"/></g>
<text transform="translate(407.07,443.82) scale(1.1,0.95)" font-size="20.57" text-anchor="middle" style="stroke-width:0.3px">2</text>
<text x="419.36" y="439.00" font-size="29.38" text-anchor="middle" style="stroke-width:0.12px">,</text>
<g transform="translate(427.45,439.00) scale(29.380,29.380)" fill="none" stroke="#000" stroke-linecap="round"><path d="M0.036,-0.286 C0.07,-0.38 0.12,-0.442 0.17,-0.442 C0.215,-0.442 0.238,-0.41 0.228,-0.35" stroke-width="0.0460"/><path d="M0.226,-0.345 C0.20,-0.25 0.16,-0.16 0.155,-0.10" stroke-width="0.0882"/><path d="M0.155,-0.10 C0.150,-0.04 0.175,-0.016 0.222,-0.016 C0.28,-0.016 0.33,-0.05 0.352,-0.085" stroke-width="0.0450"/><path d="M0.468,-0.405 L0.372,0.015" stroke-width="0.0980"/><path d="M0.374,0.01 C0.345,0.12 0.265,0.19 0.185,0.19 C0.135,0.19 0.105,0.165 0.100,0.125" stroke-width="0.0450"/><circle cx="0.112" cy="0.105" r="0.0540" fill="#000" stroke="none"/></g>
<text transform="translate(447.71,443.82) scale(1.1,0.95)" font-size="20.57" text-anchor="middle" style="stroke-width:0.3px">2</text>
<text transform="translate(460.75,439.00) scale(1.0,1.12)" font-size="29.38" text-anchor="middle" style="stroke-width:0.0px">)</text>
<text x="470.54" y="439.00" font-size="29.38" text-anchor="middle" style="stroke-width:0.12px">.</text>
<g fill="none" stroke="#000" stroke-width="1.45" stroke-linecap="square" stroke-linejoin="miter"><path transform="translate(80.45,560.95)" d="M-5.3,-16.25 L0.15,-16.25 L6.15,-0.75 M0.15,-16.25 L-6.05,-0.75 M-3.77,-6.45 L3.94,-6.45 M-7.7,-0.75 L-3.5,-0.75 M3.1,-0.75 L7.7,-0.75"/></g>
<text x="80.00" y="600.30" font-size="29.38" text-anchor="middle">(Elliptical</text>
<text x="80.20" y="638.80" font-size="29.38" text-anchor="middle">Arc)</text>
<g transform="translate(194.00,568.20) scale(29.380,29.380)" fill="none" stroke="#000" stroke-linecap="round"><path d="M0.036,-0.296 C0.06,-0.39 0.10,-0.452 0.14,-0.452 C0.175,-0.452 0.192,-0.43 0.184,-0.385" stroke-width="0.0460"/><path d="M0.184,-0.385 L0.108,-0.04" stroke-width="0.0980"/><path d="M0.19,-0.33 C0.22,-0.40 0.27,-0.452 0.33,-0.452 C0.37,-0.452 0.395,-0.43 0.395,-0.40" stroke-width="0.0460"/><circle cx="0.383" cy="-0.385" r="0.0520" fill="#000" stroke="none"/></g>
<g transform="translate(207.25,573.02) scale(23.355,20.566)" fill="none" stroke="#000" stroke-linecap="round"><path d="M0.068,-0.289 C0.10,-0.36 0.16,-0.432 0.225,-0.432 C0.27,-0.432 0.30,-0.41 0.310,-0.378" stroke-width="0.0460"/><path d="M0.312,-0.372 C0.29,-0.27 0.265,-0.16 0.248,-0.062" stroke-width="0.0980"/><path d="M0.250,-0.06 C0.23,-0.02 0.19,-0.010 0.140,-0.010 C0.105,-0.010 0.085,-0.03 0.080,-0.06" stroke-width="0.0460"/><circle cx="0.08" cy="-0.072" r="0.0500" fill="#000" stroke="none"/><path d="M0.252,-0.06 C0.27,-0.025 0.30,-0.010 0.334,-0.010 C0.41,-0.010 0.47,-0.09 0.487,-0.153" stroke-width="0.0460"/><path d="M0.308,-0.37 C0.33,-0.41 0.38,-0.436 0.432,-0.436 C0.47,-0.436 0.492,-0.415 0.490,-0.39" stroke-width="0.0460"/><circle cx="0.485" cy="-0.368" r="0.0490" fill="#000" stroke="none"/></g>
<text x="222.07" y="568.20" font-size="29.38">, </text>
<g transform="translate(236.76,568.20) scale(29.380,29.380)" fill="none" stroke="#000" stroke-linecap="round"><path d="M0.036,-0.296 C0.06,-0.39 0.10,-0.452 0.14,-0.452 C0.175,-0.452 0.192,-0.43 0.184,-0.385" stroke-width="0.0460"/><path d="M0.184,-0.385 L0.108,-0.04" stroke-width="0.0980"/><path d="M0.19,-0.33 C0.22,-0.40 0.27,-0.452 0.33,-0.452 C0.37,-0.452 0.395,-0.43 0.395,-0.40" stroke-width="0.0460"/><circle cx="0.383" cy="-0.385" r="0.0520" fill="#000" stroke="none"/></g>
<g transform="translate(250.01,573.02) scale(26.845,20.566)" fill="none" stroke="#000" stroke-linecap="round"><path d="M0.036,-0.286 C0.07,-0.38 0.12,-0.442 0.17,-0.442 C0.215,-0.442 0.238,-0.41 0.228,-0.35" stroke-width="0.0460"/><path d="M0.226,-0.345 C0.20,-0.25 0.16,-0.16 0.155,-0.10" stroke-width="0.0882"/><path d="M0.155,-0.10 C0.150,-0.04 0.175,-0.016 0.222,-0.016 C0.28,-0.016 0.33,-0.05 0.352,-0.085" stroke-width="0.0450"/><path d="M0.468,-0.405 L0.372,0.015" stroke-width="0.0980"/><path d="M0.374,0.01 C0.345,0.12 0.265,0.19 0.185,0.19 C0.135,0.19 0.105,0.165 0.100,0.125" stroke-width="0.0450"/><circle cx="0.112" cy="0.105" r="0.0540" fill="#000" stroke="none"/></g>
<g transform="translate(194.00,606.50) scale(29.380,29.380)" fill="none" stroke="#000" stroke-linecap="round"><path d="M0.146,-0.415 C0.08,-0.35 0.04,-0.26 0.045,-0.18 C0.05,-0.08 0.12,-0.01 0.25,-0.005 C0.42,0.0 0.60,-0.12 0.61,-0.29 C0.615,-0.38 0.56,-0.43 0.49,-0.43 C0.40,-0.43 0.33,-0.32 0.29,-0.16" stroke-width="0.0500"/><path d="M0.30,-0.20 C0.27,-0.07 0.24,0.05 0.20,0.195" stroke-width="0.0931"/></g>
<text x="214.45" y="606.50" font-size="29.38">,</text>
<text x="218.86" y="606.50" font-size="29.38"> </text>
<g transform="translate(226.20,606.50) scale(29.380,29.380)" fill="none" stroke="#000" stroke-linecap="round"><path d="M0.585,-0.605 C0.58,-0.66 0.55,-0.685 0.50,-0.685 C0.45,-0.685 0.415,-0.64 0.40,-0.56" stroke-width="0.0500"/><path d="M0.40,-0.56 C0.37,-0.38 0.34,-0.18 0.31,-0.03" stroke-width="0.0931"/><path d="M0.31,-0.03 C0.285,0.09 0.25,0.195 0.185,0.195 C0.155,0.195 0.135,0.175 0.135,0.15" stroke-width="0.0500"/><circle cx="0.555" cy="-0.61" r="0.0600" fill="#000" stroke="none"/><circle cx="0.148" cy="0.135" r="0.0580" fill="#000" stroke="none"/><path d="M0.27,-0.408 L0.545,-0.408" stroke-width="0.0370"/></g>
<text transform="translate(252.01,611.32) scale(1.2,0.94)" font-size="20.57" text-anchor="middle" font-style="italic" style="stroke-width:0.12px">A</text>
<text x="259.56" y="606.50" font-size="29.38">, </text>
<g transform="translate(274.25,606.50) scale(29.380,29.380)" fill="none" stroke="#000" stroke-linecap="round"><path d="M0.585,-0.605 C0.58,-0.66 0.55,-0.685 0.50,-0.685 C0.45,-0.685 0.415,-0.64 0.40,-0.56" stroke-width="0.0500"/><path d="M0.40,-0.56 C0.37,-0.38 0.34,-0.18 0.31,-0.03" stroke-width="0.0931"/><path d="M0.31,-0.03 C0.285,0.09 0.25,0.195 0.185,0.195 C0.155,0.195 0.135,0.175 0.135,0.15" stroke-width="0.0500"/><circle cx="0.555" cy="-0.61" r="0.0600" fill="#000" stroke="none"/><circle cx="0.148" cy="0.135" r="0.0580" fill="#000" stroke="none"/><path d="M0.27,-0.408 L0.545,-0.408" stroke-width="0.0370"/></g>
<text transform="translate(298.46,611.32) scale(1.3,1.0)" font-size="20.57" text-anchor="middle" font-style="italic" style="stroke-width:0.12px">S</text>
<g transform="translate(194.00,645.00) scale(29.380,29.380)" fill="none" stroke="#000" stroke-linecap="round"><path d="M0.068,-0.289 C0.10,-0.36 0.16,-0.432 0.225,-0.432 C0.27,-0.432 0.30,-0.41 0.310,-0.378" stroke-width="0.0460"/><path d="M0.312,-0.372 C0.29,-0.27 0.265,-0.16 0.248,-0.062" stroke-width="0.0980"/><path d="M0.250,-0.06 C0.23,-0.02 0.19,-0.010 0.140,-0.010 C0.105,-0.010 0.085,-0.03 0.080,-0.06" stroke-width="0.0460"/><circle cx="0.08" cy="-0.072" r="0.0500" fill="#000" stroke="none"/><path d="M0.252,-0.06 C0.27,-0.025 0.30,-0.010 0.334,-0.010 C0.41,-0.010 0.47,-0.09 0.487,-0.153" stroke-width="0.0460"/><path d="M0.308,-0.37 C0.33,-0.41 0.38,-0.436 0.432,-0.436 C0.47,-0.436 0.492,-0.415 0.490,-0.39" stroke-width="0.0460"/><circle cx="0.485" cy="-0.368" r="0.0490" fill="#000" stroke="none"/></g>
<text transform="translate(216.64,649.82) scale(1.1,0.95)" font-size="20.57" text-anchor="middle" style="stroke-width:0.3px">2</text>
<text x="223.97" y="645.00" font-size="29.38">, </text>
<g transform="translate(238.66,645.00) scale(29.380,29.380)" fill="none" stroke="#000" stroke-linecap="round"><path d="M0.036,-0.286 C0.07,-0.38 0.12,-0.442 0.17,-0.442 C0.215,-0.442 0.238,-0.41 0.228,-0.35" stroke-width="0.0460"/><path d="M0.226,-0.345 C0.20,-0.25 0.16,-0.16 0.155,-0.10" stroke-width="0.0882"/><path d="M0.155,-0.10 C0.150,-0.04 0.175,-0.016 0.222,-0.016 C0.28,-0.016 0.33,-0.05 0.352,-0.085" stroke-width="0.0450"/><path d="M0.468,-0.405 L0.372,0.015" stroke-width="0.0980"/><path d="M0.374,0.01 C0.345,0.12 0.265,0.19 0.185,0.19 C0.135,0.19 0.105,0.165 0.100,0.125" stroke-width="0.0450"/><circle cx="0.112" cy="0.105" r="0.0540" fill="#000" stroke="none"/></g>
<text transform="translate(258.91,649.82) scale(1.1,0.95)" font-size="20.57" text-anchor="middle" style="stroke-width:0.3px">2</text>
<text x="373.00" y="541.80" font-size="29.38">Draw an elliptical arc with radii </text>
<g transform="translate(754.72,541.80) scale(29.380,29.380)" fill="none" stroke="#000" stroke-linecap="round"><path d="M0.036,-0.296 C0.06,-0.39 0.10,-0.452 0.14,-0.452 C0.175,-0.452 0.192,-0.43 0.184,-0.385" stroke-width="0.0460"/><path d="M0.184,-0.385 L0.108,-0.04" stroke-width="0.0980"/><path d="M0.19,-0.33 C0.22,-0.40 0.27,-0.452 0.33,-0.452 C0.37,-0.452 0.395,-0.43 0.395,-0.40" stroke-width="0.0460"/><circle cx="0.383" cy="-0.385" r="0.0520" fill="#000" stroke="none"/></g>
<g transform="translate(767.97,546.62) scale(23.355,20.566)" fill="none" stroke="#000" stroke-linecap="round"><path d="M0.068,-0.289 C0.10,-0.36 0.16,-0.432 0.225,-0.432 C0.27,-0.432 0.30,-0.41 0.310,-0.378" stroke-width="0.0460"/><path d="M0.312,-0.372 C0.29,-0.27 0.265,-0.16 0.248,-0.062" stroke-width="0.0980"/><path d="M0.250,-0.06 C0.23,-0.02 0.19,-0.010 0.140,-0.010 C0.105,-0.010 0.085,-0.03 0.080,-0.06" stroke-width="0.0460"/><circle cx="0.08" cy="-0.072" r="0.0500" fill="#000" stroke="none"/><path d="M0.252,-0.06 C0.27,-0.025 0.30,-0.010 0.334,-0.010 C0.41,-0.010 0.47,-0.09 0.487,-0.153" stroke-width="0.0460"/><path d="M0.308,-0.37 C0.33,-0.41 0.38,-0.436 0.432,-0.436 C0.47,-0.436 0.492,-0.415 0.490,-0.39" stroke-width="0.0460"/><circle cx="0.485" cy="-0.368" r="0.0490" fill="#000" stroke="none"/></g>
<text x="782.79" y="541.80" font-size="29.38"> and </text>
<g transform="translate(839.89,541.80) scale(29.380,29.380)" fill="none" stroke="#000" stroke-linecap="round"><path d="M0.036,-0.296 C0.06,-0.39 0.10,-0.452 0.14,-0.452 C0.175,-0.452 0.192,-0.43 0.184,-0.385" stroke-width="0.0460"/><path d="M0.184,-0.385 L0.108,-0.04" stroke-width="0.0980"/><path d="M0.19,-0.33 C0.22,-0.40 0.27,-0.452 0.33,-0.452 C0.37,-0.452 0.395,-0.43 0.395,-0.40" stroke-width="0.0460"/><circle cx="0.383" cy="-0.385" r="0.0520" fill="#000" stroke="none"/></g>
<g transform="translate(853.14,546.62) scale(26.845,20.566)" fill="none" stroke="#000" stroke-linecap="round"><path d="M0.036,-0.286 C0.07,-0.38 0.12,-0.442 0.17,-0.442 C0.215,-0.442 0.238,-0.41 0.228,-0.35" stroke-width="0.0460"/><path d="M0.226,-0.345 C0.20,-0.25 0.16,-0.16 0.155,-0.10" stroke-width="0.0882"/><path d="M0.155,-0.10 C0.150,-0.04 0.175,-0.016 0.222,-0.016 C0.28,-0.016 0.33,-0.05 0.352,-0.085" stroke-width="0.0450"/><path d="M0.468,-0.405 L0.372,0.015" stroke-width="0.0980"/><path d="M0.374,0.01 C0.345,0.12 0.265,0.19 0.185,0.19 C0.135,0.19 0.105,0.165 0.100,0.125" stroke-width="0.0450"/><circle cx="0.112" cy="0.105" r="0.0540" fill="#000" stroke="none"/></g>
<text x="373.00" y="580.30" font-size="29.38">(semi-major and semi-minor axes),</text>
<text x="373.00" y="618.40" font-size="29.38">rotated by angle </text>
<g transform="translate(569.57,618.40) scale(29.380,29.380)" fill="none" stroke="#000" stroke-linecap="round"><path d="M0.146,-0.415 C0.08,-0.35 0.04,-0.26 0.045,-0.18 C0.05,-0.08 0.12,-0.01 0.25,-0.005 C0.42,0.0 0.60,-0.12 0.61,-0.29 C0.615,-0.38 0.56,-0.43 0.49,-0.43 C0.40,-0.43 0.33,-0.32 0.29,-0.16" stroke-width="0.0500"/><path d="M0.30,-0.20 C0.27,-0.07 0.24,0.05 0.20,0.195" stroke-width="0.0931"/></g>
<text x="587.09" y="618.40" font-size="29.38"> to the x-axis,</text>
<text x="373.00" y="656.90" font-size="29.38">and end-point (</text>
<g transform="translate(552.46,656.90) scale(29.380,29.380)" fill="none" stroke="#000" stroke-linecap="round"><path d="M0.068,-0.289 C0.10,-0.36 0.16,-0.432 0.225,-0.432 C0.27,-0.432 0.30,-0.41 0.310,-0.378" stroke-width="0.0460"/><path d="M0.312,-0.372 C0.29,-0.27 0.265,-0.16 0.248,-0.062" stroke-width="0.0980"/><path d="M0.250,-0.06 C0.23,-0.02 0.19,-0.010 0.140,-0.010 C0.105,-0.010 0.085,-0.03 0.080,-0.06" stroke-width="0.0460"/><circle cx="0.08" cy="-0.072" r="0.0500" fill="#000" stroke="none"/><path d="M0.252,-0.06 C0.27,-0.025 0.30,-0.010 0.334,-0.010 C0.41,-0.010 0.47,-0.09 0.487,-0.153" stroke-width="0.0460"/><path d="M0.308,-0.37 C0.33,-0.41 0.38,-0.436 0.432,-0.436 C0.47,-0.436 0.492,-0.415 0.490,-0.39" stroke-width="0.0460"/><circle cx="0.485" cy="-0.368" r="0.0490" fill="#000" stroke="none"/></g>
<text transform="translate(575.11,661.72) scale(1.1,0.95)" font-size="20.57" text-anchor="middle" style="stroke-width:0.3px">2</text>
<text x="582.43" y="656.90" font-size="29.38">, </text>
<g transform="translate(597.12,656.90) scale(29.380,29.380)" fill="none" stroke="#000" stroke-linecap="round"><path d="M0.036,-0.286 C0.07,-0.38 0.12,-0.442 0.17,-0.442 C0.215,-0.442 0.238,-0.41 0.228,-0.35" stroke-width="0.0460"/><path d="M0.226,-0.345 C0.20,-0.25 0.16,-0.16 0.155,-0.10" stroke-width="0.0882"/><path d="M0.155,-0.10 C0.150,-0.04 0.175,-0.016 0.222,-0.016 C0.28,-0.016 0.33,-0.05 0.352,-0.085" stroke-width="0.0450"/><path d="M0.468,-0.405 L0.372,0.015" stroke-width="0.0980"/><path d="M0.374,0.01 C0.345,0.12 0.265,0.19 0.185,0.19 C0.135,0.19 0.105,0.165 0.100,0.125" stroke-width="0.0450"/><circle cx="0.112" cy="0.105" r="0.0540" fill="#000" stroke="none"/></g>
<text transform="translate(617.38,661.72) scale(1.1,0.95)" font-size="20.57" text-anchor="middle" style="stroke-width:0.3px">2</text>
<text x="624.70" y="656.90" font-size="29.38">). </text>
<text transform="translate(654.88,656.90) scale(1.0,1.12)" font-size="29.38" text-anchor="middle" style="stroke-width:0.0px">(</text>
<g transform="translate(660.60,656.90) scale(29.380,29.380)" fill="none" stroke="#000" stroke-linecap="round"><path d="M0.068,-0.289 C0.10,-0.36 0.16,-0.432 0.225,-0.432 C0.27,-0.432 0.30,-0.41 0.310,-0.378" stroke-width="0.0460"/><path d="M0.312,-0.372 C0.29,-0.27 0.265,-0.16 0.248,-0.062" stroke-width="0.0980"/><path d="M0.250,-0.06 C0.23,-0.02 0.19,-0.010 0.140,-0.010 C0.105,-0.010 0.085,-0.03 0.080,-0.06" stroke-width="0.0460"/><circle cx="0.08" cy="-0.072" r="0.0500" fill="#000" stroke="none"/><path d="M0.252,-0.06 C0.27,-0.025 0.30,-0.010 0.334,-0.010 C0.41,-0.010 0.47,-0.09 0.487,-0.153" stroke-width="0.0460"/><path d="M0.308,-0.37 C0.33,-0.41 0.38,-0.436 0.432,-0.436 C0.47,-0.436 0.492,-0.415 0.490,-0.39" stroke-width="0.0460"/><circle cx="0.485" cy="-0.368" r="0.0490" fill="#000" stroke="none"/></g>
<text transform="translate(683.24,661.72) scale(1.1,0.95)" font-size="20.57" text-anchor="middle" style="stroke-width:0.3px">2</text>
<text x="695.53" y="656.90" font-size="29.38" text-anchor="middle" style="stroke-width:0.12px">,</text>
<g transform="translate(703.62,656.90) scale(29.380,29.380)" fill="none" stroke="#000" stroke-linecap="round"><path d="M0.036,-0.286 C0.07,-0.38 0.12,-0.442 0.17,-0.442 C0.215,-0.442 0.238,-0.41 0.228,-0.35" stroke-width="0.0460"/><path d="M0.226,-0.345 C0.20,-0.25 0.16,-0.16 0.155,-0.10" stroke-width="0.0882"/><path d="M0.155,-0.10 C0.150,-0.04 0.175,-0.016 0.222,-0.016 C0.28,-0.016 0.33,-0.05 0.352,-0.085" stroke-width="0.0450"/><path d="M0.468,-0.405 L0.372,0.015" stroke-width="0.0980"/><path d="M0.374,0.01 C0.345,0.12 0.265,0.19 0.185,0.19 C0.135,0.19 0.105,0.165 0.100,0.125" stroke-width="0.0450"/><circle cx="0.112" cy="0.105" r="0.0540" fill="#000" stroke="none"/></g>
<text transform="translate(723.88,661.72) scale(1.1,0.95)" font-size="20.57" text-anchor="middle" style="stroke-width:0.3px">2</text>
<text transform="translate(736.92,656.90) scale(1.0,1.12)" font-size="29.38" text-anchor="middle" style="stroke-width:0.0px">)</text>
<text x="746.71" y="656.90" font-size="29.38" text-anchor="middle" style="stroke-width:0.12px">.</text>
<g fill="none" stroke="#000" stroke-width="1.45" stroke-linecap="square" stroke-linejoin="miter"><path transform="translate(78.85,769.75)" d="M-4.75,-11.35 L-4.75,-16.15 L4.1,-16.15 L-4.9,-0.75 L5.15,-0.75 L5.15,-5.95"/></g>
<text x="82.70" y="806.10" font-size="29.38" text-anchor="middle">(ClosePath)</text>
<g stroke="#000" stroke-width="1.45" fill="none" stroke-linecap="round"><ellipse cx="254.65" cy="778.75" rx="8.05" ry="7.81"/><line x1="245.25" y1="786.85" x2="264.10" y2="770.65"/></g>
<text x="373.00" y="778.20" font-size="29.38">Close the path by moving the cursor back</text>
<text x="373.00" y="816.50" font-size="29.38">to the path’s starting position </text>
<text transform="translate(727.11,816.50) scale(1.0,1.12)" font-size="29.38" text-anchor="middle" style="stroke-width:0.0px">(</text>
<g transform="translate(732.82,816.50) scale(29.380,29.380)" fill="none" stroke="#000" stroke-linecap="round"><path d="M0.068,-0.289 C0.10,-0.36 0.16,-0.432 0.225,-0.432 C0.27,-0.432 0.30,-0.41 0.310,-0.378" stroke-width="0.0460"/><path d="M0.312,-0.372 C0.29,-0.27 0.265,-0.16 0.248,-0.062" stroke-width="0.0980"/><path d="M0.250,-0.06 C0.23,-0.02 0.19,-0.010 0.140,-0.010 C0.105,-0.010 0.085,-0.03 0.080,-0.06" stroke-width="0.0460"/><circle cx="0.08" cy="-0.072" r="0.0500" fill="#000" stroke="none"/><path d="M0.252,-0.06 C0.27,-0.025 0.30,-0.010 0.334,-0.010 C0.41,-0.010 0.47,-0.09 0.487,-0.153" stroke-width="0.0460"/><path d="M0.308,-0.37 C0.33,-0.41 0.38,-0.436 0.432,-0.436 C0.47,-0.436 0.492,-0.415 0.490,-0.39" stroke-width="0.0460"/><circle cx="0.485" cy="-0.368" r="0.0490" fill="#000" stroke="none"/></g>
<text transform="translate(755.47,821.32) scale(1.1,0.95)" font-size="20.57" text-anchor="middle" style="stroke-width:0.3px">0</text>
<text x="767.75" y="816.50" font-size="29.38" text-anchor="middle" style="stroke-width:0.12px">,</text>
<g transform="translate(775.85,816.50) scale(29.380,29.380)" fill="none" stroke="#000" stroke-linecap="round"><path d="M0.036,-0.286 C0.07,-0.38 0.12,-0.442 0.17,-0.442 C0.215,-0.442 0.238,-0.41 0.228,-0.35" stroke-width="0.0460"/><path d="M0.226,-0.345 C0.20,-0.25 0.16,-0.16 0.155,-0.10" stroke-width="0.0882"/><path d="M0.155,-0.10 C0.150,-0.04 0.175,-0.016 0.222,-0.016 C0.28,-0.016 0.33,-0.05 0.352,-0.085" stroke-width="0.0450"/><path d="M0.468,-0.405 L0.372,0.015" stroke-width="0.0980"/><path d="M0.374,0.01 C0.345,0.12 0.265,0.19 0.185,0.19 C0.135,0.19 0.105,0.165 0.100,0.125" stroke-width="0.0450"/><circle cx="0.112" cy="0.105" r="0.0540" fill="#000" stroke="none"/></g>
<text transform="translate(796.11,821.32) scale(1.1,0.95)" font-size="20.57" text-anchor="middle" style="stroke-width:0.3px">0</text>
<text transform="translate(809.14,816.50) scale(1.0,1.12)" font-size="29.38" text-anchor="middle" style="stroke-width:0.0px">)</text>
<text x="818.94" y="816.50" font-size="29.38" text-anchor="middle" style="stroke-width:0.12px">.</text>
<g fill="none" stroke="#000" stroke-width="1.45" stroke-linecap="square" stroke-linejoin="miter"><path transform="translate(78.35,870.85)" d="M-6.4,-16.05 L6.45,-16.05 L6.45,-12.1 M-4.15,-16.05 L-4.15,-0.75 M-4.15,-8.65 L1.45,-8.65 M1.45,-11.35 L1.45,-6.25 M-6.4,-0.75 L0.7,-0.75"/></g>
<text x="78.60" y="914.30" font-size="29.38" text-anchor="middle">(Fill)</text>
<g transform="translate(230.40,914.00) scale(29.380,29.380)" fill="none" stroke="#000" stroke-linecap="round"><path d="M0.585,-0.605 C0.58,-0.66 0.55,-0.685 0.50,-0.685 C0.45,-0.685 0.415,-0.64 0.40,-0.56" stroke-width="0.0500"/><path d="M0.40,-0.56 C0.37,-0.38 0.34,-0.18 0.31,-0.03" stroke-width="0.0931"/><path d="M0.31,-0.03 C0.285,0.09 0.25,0.195 0.185,0.195 C0.155,0.195 0.135,0.175 0.135,0.15" stroke-width="0.0500"/><circle cx="0.555" cy="-0.61" r="0.0600" fill="#000" stroke="none"/><circle cx="0.148" cy="0.135" r="0.0580" fill="#000" stroke="none"/><path d="M0.27,-0.408 L0.545,-0.408" stroke-width="0.0370"/></g>
<g transform="translate(248.40,914.00) scale(29.380,29.380)" fill="none" stroke="#000" stroke-linecap="round"><path d="M0.051,-0.289 C0.08,-0.37 0.12,-0.442 0.165,-0.442 C0.195,-0.442 0.205,-0.415 0.198,-0.38" stroke-width="0.0460"/><path d="M0.198,-0.38 C0.17,-0.28 0.13,-0.17 0.118,-0.09" stroke-width="0.0833"/><path d="M0.118,-0.09 C0.108,-0.03 0.13,0.0 0.17,0.0 C0.23,0.0 0.29,-0.08 0.317,-0.153" stroke-width="0.0460"/><circle cx="0.262" cy="-0.615" r="0.0580" fill="#000" stroke="none"/></g>
<g transform="translate(258.80,914.00) scale(29.380,29.380)" fill="none" stroke="#000" stroke-linecap="round"><path d="M0.115,-0.675 L0.272,-0.675" stroke-width="0.0420"/><path d="M0.245,-0.675 C0.20,-0.48 0.12,-0.20 0.075,-0.07" stroke-width="0.0882"/><path d="M0.075,-0.07 C0.062,-0.02 0.09,0.008 0.13,0.008 C0.19,0.008 0.235,-0.08 0.252,-0.153" stroke-width="0.0460"/></g>
<g transform="translate(268.40,914.00) scale(29.380,29.380)" fill="none" stroke="#000" stroke-linecap="round"><path d="M0.115,-0.675 L0.272,-0.675" stroke-width="0.0420"/><path d="M0.245,-0.675 C0.20,-0.48 0.12,-0.20 0.075,-0.07" stroke-width="0.0882"/><path d="M0.075,-0.07 C0.062,-0.02 0.09,0.008 0.13,0.008 C0.19,0.008 0.235,-0.08 0.252,-0.153" stroke-width="0.0460"/></g>
<text x="601.10" y="914.10" font-size="29.38" text-anchor="middle">Draw the fill attribute of the path.</text>
<g stroke="#000" stroke-width="1.45" fill="none" stroke-linecap="round"><ellipse cx="1013.1" cy="909.0" rx="8.05" ry="7.81"/><line x1="1003.70" y1="917.10" x2="1022.55" y2="900.90"/></g>
<g fill="none" stroke="#000" stroke-width="1.45" stroke-linecap="square" stroke-linejoin="miter"><path transform="translate(43.84,971.70)" d="M5.66,-14.9 L-6.54,-8.4 L5.66,-1.8"/><path transform="translate(61.42,971.70)" d="M-6.67,-16 L5.2,-16 L5.2,-12.3 M-4.8,-16 L-4.8,-0.7 M-4.8,-8.1 L1.3,-8.1 M1.3,-11.1 L1.3,-5.5 M-6.67,-0.7 L5.2,-0.7 L5.2,-4.7"/><path transform="translate(79.00,971.70)" d="M6.55,-8.35 A6.6,7.9 0 1 1 -6.65,-8.35 A6.6,7.9 0 1 1 6.55,-8.35"/><path transform="translate(96.58,971.70)" d="M5.0,-12.3 L5.0,-16.0 M5.0,-14.6 C3.8,-15.8 2.0,-16.3 0,-16.3 C-3.5,-16.3 -5.3,-14.6 -5.3,-12.6 C-5.3,-10.2 -3.2,-9.4 0,-8.6 C3.6,-7.8 5.5,-6.8 5.5,-4.3 C5.5,-1.9 3.3,-0.8 0,-0.8 C-2.6,-0.8 -4.6,-1.6 -5.8,-3.2 M-5.8,-4.5 L-5.8,-0.6"/><path transform="translate(114.16,971.70)" d="M-5.96,-15.1 L6.54,-8.4 L-5.96,-1.8"/></g>
<g stroke="#000" stroke-width="1.45" fill="none" stroke-linecap="round"><ellipse cx="254.95" cy="963.5" rx="8.05" ry="7.81"/><line x1="245.55" y1="971.60" x2="264.40" y2="955.40"/></g>
<text x="600.35" y="972.30" font-size="29.38" text-anchor="middle" textLength="250.23">’End-of-SVG’ token.</text>
<line x1="950" y1="140.4" x2="1041.1" y2="178" stroke="#ff0000" stroke-width="1.2" stroke-dasharray="5.4,4.6" stroke-dashoffset="3"/>
<circle cx="1041.1" cy="178" r="4.9" fill="#fd9227"/>
<text transform="translate(1020.26,157.60) scale(1.0,1.12)" font-size="19.50" text-anchor="middle" style="stroke-width:0.0px">(</text>
<g transform="translate(1024.05,157.60) scale(19.500,19.500)" fill="none" stroke="#000" stroke-linecap="round"><path d="M0.068,-0.289 C0.10,-0.36 0.16,-0.432 0.225,-0.432 C0.27,-0.432 0.30,-0.41 0.310,-0.378" stroke-width="0.0437"/><path d="M0.312,-0.372 C0.29,-0.27 0.265,-0.16 0.248,-0.062" stroke-width="0.0931"/><path d="M0.250,-0.06 C0.23,-0.02 0.19,-0.010 0.140,-0.010 C0.105,-0.010 0.085,-0.03 0.080,-0.06" stroke-width="0.0437"/><circle cx="0.08" cy="-0.072" r="0.0475" fill="#000" stroke="none"/><path d="M0.252,-0.06 C0.27,-0.025 0.30,-0.010 0.334,-0.010 C0.41,-0.010 0.47,-0.09 0.487,-0.153" stroke-width="0.0437"/><path d="M0.308,-0.37 C0.33,-0.41 0.38,-0.436 0.432,-0.436 C0.47,-0.436 0.492,-0.415 0.490,-0.39" stroke-width="0.0437"/><circle cx="0.485" cy="-0.368" r="0.0466" fill="#000" stroke="none"/></g>
<text transform="translate(1039.08,160.80) scale(1.1,0.95)" font-size="13.65" text-anchor="middle" style="stroke-width:0.1px">2</text>
<text x="1047.24" y="157.60" font-size="19.50" text-anchor="middle" style="stroke-width:0.12px">,</text>
<g transform="translate(1052.61,157.60) scale(19.500,19.500)" fill="none" stroke="#000" stroke-linecap="round"><path d="M0.036,-0.286 C0.07,-0.38 0.12,-0.442 0.17,-0.442 C0.215,-0.442 0.238,-0.41 0.228,-0.35" stroke-width="0.0437"/><path d="M0.226,-0.345 C0.20,-0.25 0.16,-0.16 0.155,-0.10" stroke-width="0.0838"/><path d="M0.155,-0.10 C0.150,-0.04 0.175,-0.016 0.222,-0.016 C0.28,-0.016 0.33,-0.05 0.352,-0.085" stroke-width="0.0427"/><path d="M0.468,-0.405 L0.372,0.015" stroke-width="0.0931"/><path d="M0.374,0.01 C0.345,0.12 0.265,0.19 0.185,0.19 C0.135,0.19 0.105,0.165 0.100,0.125" stroke-width="0.0427"/><circle cx="0.112" cy="0.105" r="0.0513" fill="#000" stroke="none"/></g>
<text transform="translate(1066.06,160.80) scale(1.1,0.95)" font-size="13.65" text-anchor="middle" style="stroke-width:0.1px">2</text>
<text transform="translate(1074.71,157.60) scale(1.0,1.12)" font-size="19.50" text-anchor="middle" style="stroke-width:0.0px">)</text>
<line x1="969.1" y1="246.7" x2="1061.3" y2="279.8" stroke="#111" stroke-width="1.3"/>
<circle cx="969.1" cy="246.7" r="4.9" fill="#fd9227"/>
<circle cx="1061.3" cy="279.8" r="4.9" fill="#fd9227"/>
<text transform="translate(930.64,271.70) scale(1.0,1.12)" font-size="19.30" text-anchor="middle" style="stroke-width:0.0px">(</text>
<g transform="translate(934.40,271.70) scale(19.300,19.300)" fill="none" stroke="#000" stroke-linecap="round"><path d="M0.068,-0.289 C0.10,-0.36 0.16,-0.432 0.225,-0.432 C0.27,-0.432 0.30,-0.41 0.310,-0.378" stroke-width="0.0437"/><path d="M0.312,-0.372 C0.29,-0.27 0.265,-0.16 0.248,-0.062" stroke-width="0.0931"/><path d="M0.250,-0.06 C0.23,-0.02 0.19,-0.010 0.140,-0.010 C0.105,-0.010 0.085,-0.03 0.080,-0.06" stroke-width="0.0437"/><circle cx="0.08" cy="-0.072" r="0.0475" fill="#000" stroke="none"/><path d="M0.252,-0.06 C0.27,-0.025 0.30,-0.010 0.334,-0.010 C0.41,-0.010 0.47,-0.09 0.487,-0.153" stroke-width="0.0437"/><path d="M0.308,-0.37 C0.33,-0.41 0.38,-0.436 0.432,-0.436 C0.47,-0.436 0.492,-0.415 0.490,-0.39" stroke-width="0.0437"/><circle cx="0.485" cy="-0.368" r="0.0466" fill="#000" stroke="none"/></g>
<text transform="translate(950.22,274.87) scale(1.15,0.95)" font-size="13.51" text-anchor="middle" style="stroke-width:0.1px">1</text>
<text x="957.34" y="271.70" font-size="19.30" text-anchor="middle" style="stroke-width:0.12px">,</text>
<g transform="translate(962.66,271.70) scale(19.300,19.300)" fill="none" stroke="#000" stroke-linecap="round"><path d="M0.036,-0.286 C0.07,-0.38 0.12,-0.442 0.17,-0.442 C0.215,-0.442 0.238,-0.41 0.228,-0.35" stroke-width="0.0437"/><path d="M0.226,-0.345 C0.20,-0.25 0.16,-0.16 0.155,-0.10" stroke-width="0.0838"/><path d="M0.155,-0.10 C0.150,-0.04 0.175,-0.016 0.222,-0.016 C0.28,-0.016 0.33,-0.05 0.352,-0.085" stroke-width="0.0427"/><path d="M0.468,-0.405 L0.372,0.015" stroke-width="0.0931"/><path d="M0.374,0.01 C0.345,0.12 0.265,0.19 0.185,0.19 C0.135,0.19 0.105,0.165 0.100,0.125" stroke-width="0.0427"/><circle cx="0.112" cy="0.105" r="0.0513" fill="#000" stroke="none"/></g>
<text transform="translate(976.91,274.87) scale(1.15,0.95)" font-size="13.51" text-anchor="middle" style="stroke-width:0.1px">1</text>
<text transform="translate(984.53,271.70) scale(1.0,1.12)" font-size="19.30" text-anchor="middle" style="stroke-width:0.0px">)</text>
<text transform="translate(1040.45,261.00) scale(1.0,1.12)" font-size="19.40" text-anchor="middle" style="stroke-width:0.0px">(</text>
<g transform="translate(1044.22,261.00) scale(19.400,19.400)" fill="none" stroke="#000" stroke-linecap="round"><path d="M0.068,-0.289 C0.10,-0.36 0.16,-0.432 0.225,-0.432 C0.27,-0.432 0.30,-0.41 0.310,-0.378" stroke-width="0.0437"/><path d="M0.312,-0.372 C0.29,-0.27 0.265,-0.16 0.248,-0.062" stroke-width="0.0931"/><path d="M0.250,-0.06 C0.23,-0.02 0.19,-0.010 0.140,-0.010 C0.105,-0.010 0.085,-0.03 0.080,-0.06" stroke-width="0.0437"/><circle cx="0.08" cy="-0.072" r="0.0475" fill="#000" stroke="none"/><path d="M0.252,-0.06 C0.27,-0.025 0.30,-0.010 0.334,-0.010 C0.41,-0.010 0.47,-0.09 0.487,-0.153" stroke-width="0.0437"/><path d="M0.308,-0.37 C0.33,-0.41 0.38,-0.436 0.432,-0.436 C0.47,-0.436 0.492,-0.415 0.490,-0.39" stroke-width="0.0437"/><circle cx="0.485" cy="-0.368" r="0.0466" fill="#000" stroke="none"/></g>
<text transform="translate(1059.18,264.18) scale(1.1,0.95)" font-size="13.58" text-anchor="middle" style="stroke-width:0.1px">2</text>
<text x="1067.29" y="261.00" font-size="19.40" text-anchor="middle" style="stroke-width:0.12px">,</text>
<g transform="translate(1072.63,261.00) scale(19.400,19.400)" fill="none" stroke="#000" stroke-linecap="round"><path d="M0.036,-0.286 C0.07,-0.38 0.12,-0.442 0.17,-0.442 C0.215,-0.442 0.238,-0.41 0.228,-0.35" stroke-width="0.0437"/><path d="M0.226,-0.345 C0.20,-0.25 0.16,-0.16 0.155,-0.10" stroke-width="0.0838"/><path d="M0.155,-0.10 C0.150,-0.04 0.175,-0.016 0.222,-0.016 C0.28,-0.016 0.33,-0.05 0.352,-0.085" stroke-width="0.0427"/><path d="M0.468,-0.405 L0.372,0.015" stroke-width="0.0931"/><path d="M0.374,0.01 C0.345,0.12 0.265,0.19 0.185,0.19 C0.135,0.19 0.105,0.165 0.100,0.125" stroke-width="0.0427"/><circle cx="0.112" cy="0.105" r="0.0513" fill="#000" stroke="none"/></g>
<text transform="translate(1086.01,264.18) scale(1.1,0.95)" font-size="13.58" text-anchor="middle" style="stroke-width:0.1px">2</text>
<text transform="translate(1094.62,261.00) scale(1.0,1.12)" font-size="19.40" text-anchor="middle" style="stroke-width:0.0px">)</text>
<g stroke="#a8a8a8" stroke-width="1.2" stroke-dasharray="4.5,4.2"><line x1="945.4" y1="377.9" x2="961.9" y2="433.2"/><line x1="1087.1" y1="411.6" x2="1067.4" y2="357.2"/></g>
<path d="M945.4,377.9 C976.6,449.2 1054.9,338.2 1087.1,411.6" fill="none" stroke="#000" stroke-width="1.5"/>
<circle cx="945.4" cy="377.9" r="4.3" fill="#fd9227"/>
<circle cx="1087.1" cy="411.6" r="4.3" fill="#fd9227"/>
<circle cx="961.9" cy="433.2" r="4.1" fill="#00bcfd"/>
<circle cx="1067.4" cy="357.2" r="4.1" fill="#00bcfd"/>
<text transform="translate(912.41,365.10) scale(1.0,1.12)" font-size="19.00" text-anchor="middle" style="stroke-width:0.0px">(</text>
<g transform="translate(916.11,365.10) scale(19.000,19.000)" fill="none" stroke="#000" stroke-linecap="round"><path d="M0.068,-0.289 C0.10,-0.36 0.16,-0.432 0.225,-0.432 C0.27,-0.432 0.30,-0.41 0.310,-0.378" stroke-width="0.0437"/><path d="M0.312,-0.372 C0.29,-0.27 0.265,-0.16 0.248,-0.062" stroke-width="0.0931"/><path d="M0.250,-0.06 C0.23,-0.02 0.19,-0.010 0.140,-0.010 C0.105,-0.010 0.085,-0.03 0.080,-0.06" stroke-width="0.0437"/><circle cx="0.08" cy="-0.072" r="0.0475" fill="#000" stroke="none"/><path d="M0.252,-0.06 C0.27,-0.025 0.30,-0.010 0.334,-0.010 C0.41,-0.010 0.47,-0.09 0.487,-0.153" stroke-width="0.0437"/><path d="M0.308,-0.37 C0.33,-0.41 0.38,-0.436 0.432,-0.436 C0.47,-0.436 0.492,-0.415 0.490,-0.39" stroke-width="0.0437"/><circle cx="0.485" cy="-0.368" r="0.0466" fill="#000" stroke="none"/></g>
<text transform="translate(931.68,368.22) scale(1.15,0.95)" font-size="13.30" text-anchor="middle" style="stroke-width:0.1px">1</text>
<text x="938.70" y="365.10" font-size="19.00" text-anchor="middle" style="stroke-width:0.12px">,</text>
<g transform="translate(943.93,365.10) scale(19.000,19.000)" fill="none" stroke="#000" stroke-linecap="round"><path d="M0.036,-0.286 C0.07,-0.38 0.12,-0.442 0.17,-0.442 C0.215,-0.442 0.238,-0.41 0.228,-0.35" stroke-width="0.0437"/><path d="M0.226,-0.345 C0.20,-0.25 0.16,-0.16 0.155,-0.10" stroke-width="0.0838"/><path d="M0.155,-0.10 C0.150,-0.04 0.175,-0.016 0.222,-0.016 C0.28,-0.016 0.33,-0.05 0.352,-0.085" stroke-width="0.0427"/><path d="M0.468,-0.405 L0.372,0.015" stroke-width="0.0931"/><path d="M0.374,0.01 C0.345,0.12 0.265,0.19 0.185,0.19 C0.135,0.19 0.105,0.165 0.100,0.125" stroke-width="0.0427"/><circle cx="0.112" cy="0.105" r="0.0513" fill="#000" stroke="none"/></g>
<text transform="translate(957.97,368.22) scale(1.15,0.95)" font-size="13.30" text-anchor="middle" style="stroke-width:0.1px">1</text>
<text transform="translate(965.47,365.10) scale(1.0,1.12)" font-size="19.00" text-anchor="middle" style="stroke-width:0.0px">)</text>
<text transform="translate(888.37,433.00) scale(1.0,1.12)" font-size="16.50" text-anchor="middle" style="stroke-width:0.0px">(</text>
<g transform="translate(891.58,433.00) scale(16.500,16.500)" fill="none" stroke="#000" stroke-linecap="round"><path d="M0.405,-0.36 C0.385,-0.42 0.335,-0.445 0.29,-0.445 C0.15,-0.445 0.06,-0.27 0.06,-0.15 C0.06,-0.07 0.105,-0.014 0.18,-0.014 C0.26,-0.014 0.33,-0.08 0.37,-0.13" stroke-width="0.0391"/><path d="M0.19,-0.415 C0.11,-0.35 0.065,-0.24 0.065,-0.15 C0.065,-0.09 0.08,-0.05 0.11,-0.03" stroke-width="0.0708"/><path d="M0.452,-0.44 L0.302,0.155" stroke-width="0.0833"/><path d="M0.175,0.163 L0.395,0.163" stroke-width="0.0357"/></g>
<g transform="translate(898.94,435.71) scale(13.116,11.550)" fill="none" stroke="#000" stroke-linecap="round"><path d="M0.068,-0.289 C0.10,-0.36 0.16,-0.432 0.225,-0.432 C0.27,-0.432 0.30,-0.41 0.310,-0.378" stroke-width="0.0391"/><path d="M0.312,-0.372 C0.29,-0.27 0.265,-0.16 0.248,-0.062" stroke-width="0.0833"/><path d="M0.250,-0.06 C0.23,-0.02 0.19,-0.010 0.140,-0.010 C0.105,-0.010 0.085,-0.03 0.080,-0.06" stroke-width="0.0391"/><circle cx="0.08" cy="-0.072" r="0.0425" fill="#000" stroke="none"/><path d="M0.252,-0.06 C0.27,-0.025 0.30,-0.010 0.334,-0.010 C0.41,-0.010 0.47,-0.09 0.487,-0.153" stroke-width="0.0391"/><path d="M0.308,-0.37 C0.33,-0.41 0.38,-0.436 0.432,-0.436 C0.47,-0.436 0.492,-0.415 0.490,-0.39" stroke-width="0.0391"/><circle cx="0.485" cy="-0.368" r="0.0416" fill="#000" stroke="none"/></g>
<text transform="translate(910.54,435.71) scale(1.15,0.95)" font-size="11.55" text-anchor="middle" style="stroke-width:0.1px">1</text>
<text x="916.63" y="433.00" font-size="16.50" text-anchor="middle" style="stroke-width:0.12px">,</text>
<g transform="translate(921.17,433.00) scale(16.500,16.500)" fill="none" stroke="#000" stroke-linecap="round"><path d="M0.405,-0.36 C0.385,-0.42 0.335,-0.445 0.29,-0.445 C0.15,-0.445 0.06,-0.27 0.06,-0.15 C0.06,-0.07 0.105,-0.014 0.18,-0.014 C0.26,-0.014 0.33,-0.08 0.37,-0.13" stroke-width="0.0391"/><path d="M0.19,-0.415 C0.11,-0.35 0.065,-0.24 0.065,-0.15 C0.065,-0.09 0.08,-0.05 0.11,-0.03" stroke-width="0.0708"/><path d="M0.452,-0.44 L0.302,0.155" stroke-width="0.0833"/><path d="M0.175,0.163 L0.395,0.163" stroke-width="0.0357"/></g>
<g transform="translate(928.53,435.71) scale(15.076,11.550)" fill="none" stroke="#000" stroke-linecap="round"><path d="M0.036,-0.286 C0.07,-0.38 0.12,-0.442 0.17,-0.442 C0.215,-0.442 0.238,-0.41 0.228,-0.35" stroke-width="0.0391"/><path d="M0.226,-0.345 C0.20,-0.25 0.16,-0.16 0.155,-0.10" stroke-width="0.0750"/><path d="M0.155,-0.10 C0.150,-0.04 0.175,-0.016 0.222,-0.016 C0.28,-0.016 0.33,-0.05 0.352,-0.085" stroke-width="0.0382"/><path d="M0.468,-0.405 L0.372,0.015" stroke-width="0.0833"/><path d="M0.374,0.01 C0.345,0.12 0.265,0.19 0.185,0.19 C0.135,0.19 0.105,0.165 0.100,0.125" stroke-width="0.0382"/><circle cx="0.112" cy="0.105" r="0.0459" fill="#000" stroke="none"/></g>
<text transform="translate(940.02,435.71) scale(1.15,0.95)" font-size="11.55" text-anchor="middle" style="stroke-width:0.1px">1</text>
<text transform="translate(946.54,433.00) scale(1.0,1.12)" font-size="16.50" text-anchor="middle" style="stroke-width:0.0px">)</text>
<text transform="translate(1082.86,361.70) scale(1.0,1.12)" font-size="15.30" text-anchor="middle" style="stroke-width:0.0px">(</text>
<g transform="translate(1085.84,361.70) scale(15.300,15.300)" fill="none" stroke="#000" stroke-linecap="round"><path d="M0.405,-0.36 C0.385,-0.42 0.335,-0.445 0.29,-0.445 C0.15,-0.445 0.06,-0.27 0.06,-0.15 C0.06,-0.07 0.105,-0.014 0.18,-0.014 C0.26,-0.014 0.33,-0.08 0.37,-0.13" stroke-width="0.0391"/><path d="M0.19,-0.415 C0.11,-0.35 0.065,-0.24 0.065,-0.15 C0.065,-0.09 0.08,-0.05 0.11,-0.03" stroke-width="0.0708"/><path d="M0.452,-0.44 L0.302,0.155" stroke-width="0.0833"/><path d="M0.175,0.163 L0.395,0.163" stroke-width="0.0357"/></g>
<g transform="translate(1092.66,364.21) scale(12.162,10.710)" fill="none" stroke="#000" stroke-linecap="round"><path d="M0.068,-0.289 C0.10,-0.36 0.16,-0.432 0.225,-0.432 C0.27,-0.432 0.30,-0.41 0.310,-0.378" stroke-width="0.0391"/><path d="M0.312,-0.372 C0.29,-0.27 0.265,-0.16 0.248,-0.062" stroke-width="0.0833"/><path d="M0.250,-0.06 C0.23,-0.02 0.19,-0.010 0.140,-0.010 C0.105,-0.010 0.085,-0.03 0.080,-0.06" stroke-width="0.0391"/><circle cx="0.08" cy="-0.072" r="0.0425" fill="#000" stroke="none"/><path d="M0.252,-0.06 C0.27,-0.025 0.30,-0.010 0.334,-0.010 C0.41,-0.010 0.47,-0.09 0.487,-0.153" stroke-width="0.0391"/><path d="M0.308,-0.37 C0.33,-0.41 0.38,-0.436 0.432,-0.436 C0.47,-0.436 0.492,-0.415 0.490,-0.39" stroke-width="0.0391"/><circle cx="0.485" cy="-0.368" r="0.0416" fill="#000" stroke="none"/></g>
<text transform="translate(1102.66,364.21) scale(1.1,0.95)" font-size="10.71" text-anchor="middle" style="stroke-width:0.1px">2</text>
<text x="1109.06" y="361.70" font-size="15.30" text-anchor="middle" style="stroke-width:0.12px">,</text>
<g transform="translate(1113.27,361.70) scale(15.300,15.300)" fill="none" stroke="#000" stroke-linecap="round"><path d="M0.405,-0.36 C0.385,-0.42 0.335,-0.445 0.29,-0.445 C0.15,-0.445 0.06,-0.27 0.06,-0.15 C0.06,-0.07 0.105,-0.014 0.18,-0.014 C0.26,-0.014 0.33,-0.08 0.37,-0.13" stroke-width="0.0391"/><path d="M0.19,-0.415 C0.11,-0.35 0.065,-0.24 0.065,-0.15 C0.065,-0.09 0.08,-0.05 0.11,-0.03" stroke-width="0.0708"/><path d="M0.452,-0.44 L0.302,0.155" stroke-width="0.0833"/><path d="M0.175,0.163 L0.395,0.163" stroke-width="0.0357"/></g>
<g transform="translate(1120.10,364.21) scale(13.980,10.710)" fill="none" stroke="#000" stroke-linecap="round"><path d="M0.036,-0.286 C0.07,-0.38 0.12,-0.442 0.17,-0.442 C0.215,-0.442 0.238,-0.41 0.228,-0.35" stroke-width="0.0391"/><path d="M0.226,-0.345 C0.20,-0.25 0.16,-0.16 0.155,-0.10" stroke-width="0.0750"/><path d="M0.155,-0.10 C0.150,-0.04 0.175,-0.016 0.222,-0.016 C0.28,-0.016 0.33,-0.05 0.352,-0.085" stroke-width="0.0382"/><path d="M0.468,-0.405 L0.372,0.015" stroke-width="0.0833"/><path d="M0.374,0.01 C0.345,0.12 0.265,0.19 0.185,0.19 C0.135,0.19 0.105,0.165 0.100,0.125" stroke-width="0.0382"/><circle cx="0.112" cy="0.105" r="0.0459" fill="#000" stroke="none"/></g>
<text transform="translate(1130.00,364.21) scale(1.1,0.95)" font-size="10.71" text-anchor="middle" style="stroke-width:0.1px">2</text>
<text transform="translate(1136.79,361.70) scale(1.0,1.12)" font-size="15.30" text-anchor="middle" style="stroke-width:0.0px">)</text>
<text transform="translate(1068.51,434.60) scale(1.0,1.12)" font-size="19.00" text-anchor="middle" style="stroke-width:0.0px">(</text>
<g transform="translate(1072.21,434.60) scale(19.000,19.000)" fill="none" stroke="#000" stroke-linecap="round"><path d="M0.068,-0.289 C0.10,-0.36 0.16,-0.432 0.225,-0.432 C0.27,-0.432 0.30,-0.41 0.310,-0.378" stroke-width="0.0437"/><path d="M0.312,-0.372 C0.29,-0.27 0.265,-0.16 0.248,-0.062" stroke-width="0.0931"/><path d="M0.250,-0.06 C0.23,-0.02 0.19,-0.010 0.140,-0.010 C0.105,-0.010 0.085,-0.03 0.080,-0.06" stroke-width="0.0437"/><circle cx="0.08" cy="-0.072" r="0.0475" fill="#000" stroke="none"/><path d="M0.252,-0.06 C0.27,-0.025 0.30,-0.010 0.334,-0.010 C0.41,-0.010 0.47,-0.09 0.487,-0.153" stroke-width="0.0437"/><path d="M0.308,-0.37 C0.33,-0.41 0.38,-0.436 0.432,-0.436 C0.47,-0.436 0.492,-0.415 0.490,-0.39" stroke-width="0.0437"/><circle cx="0.485" cy="-0.368" r="0.0466" fill="#000" stroke="none"/></g>
<text transform="translate(1086.85,437.72) scale(1.1,0.95)" font-size="13.30" text-anchor="middle" style="stroke-width:0.1px">2</text>
<text x="1094.80" y="434.60" font-size="19.00" text-anchor="middle" style="stroke-width:0.12px">,</text>
<g transform="translate(1100.03,434.60) scale(19.000,19.000)" fill="none" stroke="#000" stroke-linecap="round"><path d="M0.036,-0.286 C0.07,-0.38 0.12,-0.442 0.17,-0.442 C0.215,-0.442 0.238,-0.41 0.228,-0.35" stroke-width="0.0437"/><path d="M0.226,-0.345 C0.20,-0.25 0.16,-0.16 0.155,-0.10" stroke-width="0.0838"/><path d="M0.155,-0.10 C0.150,-0.04 0.175,-0.016 0.222,-0.016 C0.28,-0.016 0.33,-0.05 0.352,-0.085" stroke-width="0.0427"/><path d="M0.468,-0.405 L0.372,0.015" stroke-width="0.0931"/><path d="M0.374,0.01 C0.345,0.12 0.265,0.19 0.185,0.19 C0.135,0.19 0.105,0.165 0.100,0.125" stroke-width="0.0427"/><circle cx="0.112" cy="0.105" r="0.0513" fill="#000" stroke="none"/></g>
<text transform="translate(1113.13,437.72) scale(1.1,0.95)" font-size="13.30" text-anchor="middle" style="stroke-width:0.1px">2</text>
<text transform="translate(1121.57,434.60) scale(1.0,1.12)" font-size="19.00" text-anchor="middle" style="stroke-width:0.0px">)</text>
<g stroke="#cdcdcd" stroke-width="1.2" stroke-dasharray="4.2,3.6" fill="none"><line x1="886.5" y1="596.9" x2="1134" y2="596.9"/><line x1="909.86" y1="603.71" x2="1084.13" y2="518.49"/></g>
<path d="M1138.6,596.9 L1133,594 L1133,599.8 Z" fill="#c8c8c8"/>
<path d="M1088.90,516.16 L1085.14,521.23 L1082.59,516.02 Z" fill="#c8c8c8"/>
<ellipse cx="994.75" cy="562.2" rx="79.3" ry="54.1" transform="rotate(-26.060 994.75 562.2)" fill="none" stroke="#b8b8b8" stroke-width="1.0"/>
<ellipse cx="1044.60" cy="626.42" rx="78.27" ry="53.40" transform="rotate(-26.060 1044.60 626.42)" fill="none" stroke="#b8b8b8" stroke-width="1.0"/>
<path d="M975.25,621.95 A79.3,54.1 -26.060 1 1 1064.40,567.17" fill="none" stroke="#111" stroke-width="1.3"/>
<line x1="923.51" y1="597.04" x2="1065.99" y2="527.36" stroke="#111" stroke-width="1.3"/>
<path d="M1059.74,526.41 Q1064.37,528.15 1065.99,527.36 Q1064.37,528.15 1062.90,532.88" fill="none" stroke="#111" stroke-width="1.2" stroke-linecap="round"/>
<path d="M929.76,597.99 Q925.13,596.25 923.51,597.04 Q925.13,596.25 926.60,591.52" fill="none" stroke="#111" stroke-width="1.2" stroke-linecap="round"/>
<line x1="970.98" y1="513.60" x2="1018.52" y2="610.80" stroke="#111" stroke-width="1.3"/>
<path d="M1019.47,604.55 Q1017.73,609.18 1018.52,610.80 Q1017.73,609.18 1013.00,607.71" fill="none" stroke="#111" stroke-width="1.2" stroke-linecap="round"/>
<path d="M970.03,519.85 Q971.77,515.22 970.98,513.60 Q971.77,515.22 976.50,516.69" fill="none" stroke="#111" stroke-width="1.2" stroke-linecap="round"/>
<path d="M952.51,597.04 A29.0,29.0 0 0 0 949.56,584.30" fill="none" stroke="#1eb4f0" stroke-width="1.3"/>
<path d="M954.9,519.4 Q967,508.2 983.5,505.6" fill="none" stroke="#ff0000" stroke-width="1.15"/>
<path d="M987.0,505.2 L981.8,502.5 L982.6,508.3 Z" fill="#ff0000"/>
<circle cx="975.25" cy="621.95" r="4.0" fill="#fd9227"/>
<circle cx="1064.40" cy="567.17" r="4.0" fill="#fd9227"/>
<g transform="translate(964.60,566.70) scale(18.000,18.000)" fill="none" stroke="#000" stroke-linecap="round"><path d="M0.036,-0.296 C0.06,-0.39 0.10,-0.452 0.14,-0.452 C0.175,-0.452 0.192,-0.43 0.184,-0.385" stroke-width="0.0391"/><path d="M0.184,-0.385 L0.108,-0.04" stroke-width="0.0833"/><path d="M0.19,-0.33 C0.22,-0.40 0.27,-0.452 0.33,-0.452 C0.37,-0.452 0.395,-0.43 0.395,-0.40" stroke-width="0.0391"/><circle cx="0.383" cy="-0.385" r="0.0442" fill="#000" stroke="none"/></g>
<g transform="translate(972.72,569.65) scale(14.309,12.600)" fill="none" stroke="#000" stroke-linecap="round"><path d="M0.068,-0.289 C0.10,-0.36 0.16,-0.432 0.225,-0.432 C0.27,-0.432 0.30,-0.41 0.310,-0.378" stroke-width="0.0391"/><path d="M0.312,-0.372 C0.29,-0.27 0.265,-0.16 0.248,-0.062" stroke-width="0.0833"/><path d="M0.250,-0.06 C0.23,-0.02 0.19,-0.010 0.140,-0.010 C0.105,-0.010 0.085,-0.03 0.080,-0.06" stroke-width="0.0391"/><circle cx="0.08" cy="-0.072" r="0.0425" fill="#000" stroke="none"/><path d="M0.252,-0.06 C0.27,-0.025 0.30,-0.010 0.334,-0.010 C0.41,-0.010 0.47,-0.09 0.487,-0.153" stroke-width="0.0391"/><path d="M0.308,-0.37 C0.33,-0.41 0.38,-0.436 0.432,-0.436 C0.47,-0.436 0.492,-0.415 0.490,-0.39" stroke-width="0.0391"/><circle cx="0.485" cy="-0.368" r="0.0416" fill="#000" stroke="none"/></g>
<g transform="translate(984.30,535.00) scale(18.000,18.000)" fill="none" stroke="#000" stroke-linecap="round"><path d="M0.036,-0.296 C0.06,-0.39 0.10,-0.452 0.14,-0.452 C0.175,-0.452 0.192,-0.43 0.184,-0.385" stroke-width="0.0391"/><path d="M0.184,-0.385 L0.108,-0.04" stroke-width="0.0833"/><path d="M0.19,-0.33 C0.22,-0.40 0.27,-0.452 0.33,-0.452 C0.37,-0.452 0.395,-0.43 0.395,-0.40" stroke-width="0.0391"/><circle cx="0.383" cy="-0.385" r="0.0442" fill="#000" stroke="none"/></g>
<g transform="translate(992.42,537.95) scale(16.447,12.600)" fill="none" stroke="#000" stroke-linecap="round"><path d="M0.036,-0.286 C0.07,-0.38 0.12,-0.442 0.17,-0.442 C0.215,-0.442 0.238,-0.41 0.228,-0.35" stroke-width="0.0391"/><path d="M0.226,-0.345 C0.20,-0.25 0.16,-0.16 0.155,-0.10" stroke-width="0.0750"/><path d="M0.155,-0.10 C0.150,-0.04 0.175,-0.016 0.222,-0.016 C0.28,-0.016 0.33,-0.05 0.352,-0.085" stroke-width="0.0382"/><path d="M0.468,-0.405 L0.372,0.015" stroke-width="0.0833"/><path d="M0.374,0.01 C0.345,0.12 0.265,0.19 0.185,0.19 C0.135,0.19 0.105,0.165 0.100,0.125" stroke-width="0.0382"/><circle cx="0.112" cy="0.105" r="0.0459" fill="#000" stroke="none"/></g>
<g transform="translate(958.60,591.60) scale(18.000,18.000)" fill="none" stroke="#000" stroke-linecap="round"><path d="M0.146,-0.415 C0.08,-0.35 0.04,-0.26 0.045,-0.18 C0.05,-0.08 0.12,-0.01 0.25,-0.005 C0.42,0.0 0.60,-0.12 0.61,-0.29 C0.615,-0.38 0.56,-0.43 0.49,-0.43 C0.40,-0.43 0.33,-0.32 0.29,-0.16" stroke-width="0.0425"/><path d="M0.30,-0.20 C0.27,-0.07 0.24,0.05 0.20,0.195" stroke-width="0.0791"/></g>
<text transform="translate(947.84,637.80) scale(1.0,1.12)" font-size="17.20" text-anchor="middle" style="stroke-width:0.0px">(</text>
<g transform="translate(951.19,637.80) scale(17.200,17.200)" fill="none" stroke="#000" stroke-linecap="round"><path d="M0.068,-0.289 C0.10,-0.36 0.16,-0.432 0.225,-0.432 C0.27,-0.432 0.30,-0.41 0.310,-0.378" stroke-width="0.0391"/><path d="M0.312,-0.372 C0.29,-0.27 0.265,-0.16 0.248,-0.062" stroke-width="0.0833"/><path d="M0.250,-0.06 C0.23,-0.02 0.19,-0.010 0.140,-0.010 C0.105,-0.010 0.085,-0.03 0.080,-0.06" stroke-width="0.0391"/><circle cx="0.08" cy="-0.072" r="0.0425" fill="#000" stroke="none"/><path d="M0.252,-0.06 C0.27,-0.025 0.30,-0.010 0.334,-0.010 C0.41,-0.010 0.47,-0.09 0.487,-0.153" stroke-width="0.0391"/><path d="M0.308,-0.37 C0.33,-0.41 0.38,-0.436 0.432,-0.436 C0.47,-0.436 0.492,-0.415 0.490,-0.39" stroke-width="0.0391"/><circle cx="0.485" cy="-0.368" r="0.0416" fill="#000" stroke="none"/></g>
<text transform="translate(965.29,640.62) scale(1.15,0.95)" font-size="12.04" text-anchor="middle" style="stroke-width:0.1px">1</text>
<text x="971.64" y="637.80" font-size="17.20" text-anchor="middle" style="stroke-width:0.12px">,</text>
<g transform="translate(976.38,637.80) scale(17.200,17.200)" fill="none" stroke="#000" stroke-linecap="round"><path d="M0.036,-0.286 C0.07,-0.38 0.12,-0.442 0.17,-0.442 C0.215,-0.442 0.238,-0.41 0.228,-0.35" stroke-width="0.0391"/><path d="M0.226,-0.345 C0.20,-0.25 0.16,-0.16 0.155,-0.10" stroke-width="0.0750"/><path d="M0.155,-0.10 C0.150,-0.04 0.175,-0.016 0.222,-0.016 C0.28,-0.016 0.33,-0.05 0.352,-0.085" stroke-width="0.0382"/><path d="M0.468,-0.405 L0.372,0.015" stroke-width="0.0833"/><path d="M0.374,0.01 C0.345,0.12 0.265,0.19 0.185,0.19 C0.135,0.19 0.105,0.165 0.100,0.125" stroke-width="0.0382"/><circle cx="0.112" cy="0.105" r="0.0459" fill="#000" stroke="none"/></g>
<text transform="translate(989.08,640.62) scale(1.15,0.95)" font-size="12.04" text-anchor="middle" style="stroke-width:0.1px">1</text>
<text transform="translate(995.87,637.80) scale(1.0,1.12)" font-size="17.20" text-anchor="middle" style="stroke-width:0.0px">)</text>
<text transform="translate(1044.34,583.60) scale(1.0,1.12)" font-size="17.20" text-anchor="middle" style="stroke-width:0.0px">(</text>
<g transform="translate(1047.69,583.60) scale(17.200,17.200)" fill="none" stroke="#000" stroke-linecap="round"><path d="M0.068,-0.289 C0.10,-0.36 0.16,-0.432 0.225,-0.432 C0.27,-0.432 0.30,-0.41 0.310,-0.378" stroke-width="0.0391"/><path d="M0.312,-0.372 C0.29,-0.27 0.265,-0.16 0.248,-0.062" stroke-width="0.0833"/><path d="M0.250,-0.06 C0.23,-0.02 0.19,-0.010 0.140,-0.010 C0.105,-0.010 0.085,-0.03 0.080,-0.06" stroke-width="0.0391"/><circle cx="0.08" cy="-0.072" r="0.0425" fill="#000" stroke="none"/><path d="M0.252,-0.06 C0.27,-0.025 0.30,-0.010 0.334,-0.010 C0.41,-0.010 0.47,-0.09 0.487,-0.153" stroke-width="0.0391"/><path d="M0.308,-0.37 C0.33,-0.41 0.38,-0.436 0.432,-0.436 C0.47,-0.436 0.492,-0.415 0.490,-0.39" stroke-width="0.0391"/><circle cx="0.485" cy="-0.368" r="0.0416" fill="#000" stroke="none"/></g>
<text transform="translate(1060.94,586.42) scale(1.1,0.95)" font-size="12.04" text-anchor="middle" style="stroke-width:0.1px">2</text>
<text x="1068.14" y="583.60" font-size="17.20" text-anchor="middle" style="stroke-width:0.12px">,</text>
<g transform="translate(1072.88,583.60) scale(17.200,17.200)" fill="none" stroke="#000" stroke-linecap="round"><path d="M0.036,-0.286 C0.07,-0.38 0.12,-0.442 0.17,-0.442 C0.215,-0.442 0.238,-0.41 0.228,-0.35" stroke-width="0.0391"/><path d="M0.226,-0.345 C0.20,-0.25 0.16,-0.16 0.155,-0.10" stroke-width="0.0750"/><path d="M0.155,-0.10 C0.150,-0.04 0.175,-0.016 0.222,-0.016 C0.28,-0.016 0.33,-0.05 0.352,-0.085" stroke-width="0.0382"/><path d="M0.468,-0.405 L0.372,0.015" stroke-width="0.0833"/><path d="M0.374,0.01 C0.345,0.12 0.265,0.19 0.185,0.19 C0.135,0.19 0.105,0.165 0.100,0.125" stroke-width="0.0382"/><circle cx="0.112" cy="0.105" r="0.0459" fill="#000" stroke="none"/></g>
<text transform="translate(1084.74,586.42) scale(1.1,0.95)" font-size="12.04" text-anchor="middle" style="stroke-width:0.1px">2</text>
<text transform="translate(1092.37,583.60) scale(1.0,1.12)" font-size="17.20" text-anchor="middle" style="stroke-width:0.0px">)</text>
<g transform="translate(943.00,489.00) scale(13.200,13.200)" fill="none" stroke="#000" stroke-linecap="round"><path d="M0.585,-0.605 C0.58,-0.66 0.55,-0.685 0.50,-0.685 C0.45,-0.685 0.415,-0.64 0.40,-0.56" stroke-width="0.0425"/><path d="M0.40,-0.56 C0.37,-0.38 0.34,-0.18 0.31,-0.03" stroke-width="0.0791"/><path d="M0.31,-0.03 C0.285,0.09 0.25,0.195 0.185,0.195 C0.155,0.195 0.135,0.175 0.135,0.15" stroke-width="0.0425"/><circle cx="0.555" cy="-0.61" r="0.0510" fill="#000" stroke="none"/><circle cx="0.148" cy="0.135" r="0.0493" fill="#000" stroke="none"/><path d="M0.27,-0.408 L0.545,-0.408" stroke-width="0.0314"/></g>
<text transform="translate(953.90,490.80) scale(1.2,0.94)" font-size="9.20" text-anchor="middle" font-style="italic" style="stroke-width:0.12px">A</text>
<text transform="translate(966.50,490.00) scale(1.3,1.0)" font-size="13.20" text-anchor="middle" style="stroke-width:0.12px">=</text>
<text transform="translate(978.40,489.00) scale(1.15,1.0)" font-size="13.20" text-anchor="middle" style="stroke-width:0.12px">1</text>
<g transform="translate(944.10,502.70) scale(13.200,13.200)" fill="none" stroke="#000" stroke-linecap="round"><path d="M0.585,-0.605 C0.58,-0.66 0.55,-0.685 0.50,-0.685 C0.45,-0.685 0.415,-0.64 0.40,-0.56" stroke-width="0.0425"/><path d="M0.40,-0.56 C0.37,-0.38 0.34,-0.18 0.31,-0.03" stroke-width="0.0791"/><path d="M0.31,-0.03 C0.285,0.09 0.25,0.195 0.185,0.195 C0.155,0.195 0.135,0.175 0.135,0.15" stroke-width="0.0425"/><circle cx="0.555" cy="-0.61" r="0.0510" fill="#000" stroke="none"/><circle cx="0.148" cy="0.135" r="0.0493" fill="#000" stroke="none"/><path d="M0.27,-0.408 L0.545,-0.408" stroke-width="0.0314"/></g>
<text transform="translate(954.90,504.50) scale(1.3,1.0)" font-size="9.20" text-anchor="middle" font-style="italic" style="stroke-width:0.12px">S</text>
<text transform="translate(966.50,503.70) scale(1.3,1.0)" font-size="13.20" text-anchor="middle" style="stroke-width:0.12px">=</text>
<text transform="translate(978.40,502.70) scale(1.15,1.0)" font-size="13.20" text-anchor="middle" style="stroke-width:0.12px">1</text>
<path d="M971.2,790.6 C967,786 966.5,776 967.5,766 C969,760 974,755 980,755 C985,755 988,757.5 991,757.8 C996,758 1003,754.5 1010.7,750.9 C1017,747.5 1022,744.6 1027.6,744.6 C1037,744.6 1050,750 1057.7,757.4 C1063,763 1064,770 1058.7,774.4 L1047.5,785 L1052,792.5 C1052.5,797.5 1048,802 1043.4,802.8 L1038.6,804.6" fill="none" stroke="#bababa" stroke-width="1.2"/>
<line x1="971.2" y1="790.6" x2="1038.6" y2="804.6" stroke="#111" stroke-width="1.4"/>
<circle cx="971.20" cy="790.60" r="4.8" fill="#fd9227"/>
<circle cx="1038.60" cy="804.60" r="4.8" fill="#fd9227"/>
<text transform="translate(939.62,773.30) scale(1.0,1.12)" font-size="19.10" text-anchor="middle" style="stroke-width:0.0px">(</text>
<g transform="translate(943.34,773.30) scale(19.100,19.100)" fill="none" stroke="#000" stroke-linecap="round"><path d="M0.068,-0.289 C0.10,-0.36 0.16,-0.432 0.225,-0.432 C0.27,-0.432 0.30,-0.41 0.310,-0.378" stroke-width="0.0437"/><path d="M0.312,-0.372 C0.29,-0.27 0.265,-0.16 0.248,-0.062" stroke-width="0.0931"/><path d="M0.250,-0.06 C0.23,-0.02 0.19,-0.010 0.140,-0.010 C0.105,-0.010 0.085,-0.03 0.080,-0.06" stroke-width="0.0437"/><circle cx="0.08" cy="-0.072" r="0.0475" fill="#000" stroke="none"/><path d="M0.252,-0.06 C0.27,-0.025 0.30,-0.010 0.334,-0.010 C0.41,-0.010 0.47,-0.09 0.487,-0.153" stroke-width="0.0437"/><path d="M0.308,-0.37 C0.33,-0.41 0.38,-0.436 0.432,-0.436 C0.47,-0.436 0.492,-0.415 0.490,-0.39" stroke-width="0.0437"/><circle cx="0.485" cy="-0.368" r="0.0466" fill="#000" stroke="none"/></g>
<text transform="translate(958.06,776.43) scale(1.1,0.95)" font-size="13.37" text-anchor="middle" style="stroke-width:0.1px">0</text>
<text x="966.05" y="773.30" font-size="19.10" text-anchor="middle" style="stroke-width:0.12px">,</text>
<g transform="translate(971.31,773.30) scale(19.100,19.100)" fill="none" stroke="#000" stroke-linecap="round"><path d="M0.036,-0.286 C0.07,-0.38 0.12,-0.442 0.17,-0.442 C0.215,-0.442 0.238,-0.41 0.228,-0.35" stroke-width="0.0437"/><path d="M0.226,-0.345 C0.20,-0.25 0.16,-0.16 0.155,-0.10" stroke-width="0.0838"/><path d="M0.155,-0.10 C0.150,-0.04 0.175,-0.016 0.222,-0.016 C0.28,-0.016 0.33,-0.05 0.352,-0.085" stroke-width="0.0427"/><path d="M0.468,-0.405 L0.372,0.015" stroke-width="0.0931"/><path d="M0.374,0.01 C0.345,0.12 0.265,0.19 0.185,0.19 C0.135,0.19 0.105,0.165 0.100,0.125" stroke-width="0.0427"/><circle cx="0.112" cy="0.105" r="0.0513" fill="#000" stroke="none"/></g>
<text transform="translate(984.48,776.43) scale(1.1,0.95)" font-size="13.37" text-anchor="middle" style="stroke-width:0.1px">0</text>
<text transform="translate(992.95,773.30) scale(1.0,1.12)" font-size="19.10" text-anchor="middle" style="stroke-width:0.0px">)</text>
<text transform="translate(1032.07,790.70) scale(1.0,1.12)" font-size="19.60" text-anchor="middle" style="stroke-width:0.0px">(</text>
<g transform="translate(1035.88,790.70) scale(19.600,19.600)" fill="none" stroke="#000" stroke-linecap="round"><path d="M0.068,-0.289 C0.10,-0.36 0.16,-0.432 0.225,-0.432 C0.27,-0.432 0.30,-0.41 0.310,-0.378" stroke-width="0.0437"/><path d="M0.312,-0.372 C0.29,-0.27 0.265,-0.16 0.248,-0.062" stroke-width="0.0931"/><path d="M0.250,-0.06 C0.23,-0.02 0.19,-0.010 0.140,-0.010 C0.105,-0.010 0.085,-0.03 0.080,-0.06" stroke-width="0.0437"/><circle cx="0.08" cy="-0.072" r="0.0475" fill="#000" stroke="none"/><path d="M0.252,-0.06 C0.27,-0.025 0.30,-0.010 0.334,-0.010 C0.41,-0.010 0.47,-0.09 0.487,-0.153" stroke-width="0.0437"/><path d="M0.308,-0.37 C0.33,-0.41 0.38,-0.436 0.432,-0.436 C0.47,-0.436 0.492,-0.415 0.490,-0.39" stroke-width="0.0437"/><circle cx="0.485" cy="-0.368" r="0.0466" fill="#000" stroke="none"/></g>
<text transform="translate(1051.95,793.91) scale(1.15,0.95)" font-size="13.72" text-anchor="middle" style="stroke-width:0.1px">1</text>
<text x="1059.18" y="790.70" font-size="19.60" text-anchor="middle" style="stroke-width:0.12px">,</text>
<g transform="translate(1064.59,790.70) scale(19.600,19.600)" fill="none" stroke="#000" stroke-linecap="round"><path d="M0.036,-0.286 C0.07,-0.38 0.12,-0.442 0.17,-0.442 C0.215,-0.442 0.238,-0.41 0.228,-0.35" stroke-width="0.0437"/><path d="M0.226,-0.345 C0.20,-0.25 0.16,-0.16 0.155,-0.10" stroke-width="0.0838"/><path d="M0.155,-0.10 C0.150,-0.04 0.175,-0.016 0.222,-0.016 C0.28,-0.016 0.33,-0.05 0.352,-0.085" stroke-width="0.0427"/><path d="M0.468,-0.405 L0.372,0.015" stroke-width="0.0931"/><path d="M0.374,0.01 C0.345,0.12 0.265,0.19 0.185,0.19 C0.135,0.19 0.105,0.165 0.100,0.125" stroke-width="0.0427"/><circle cx="0.112" cy="0.105" r="0.0513" fill="#000" stroke="none"/></g>
<text transform="translate(1079.06,793.91) scale(1.15,0.95)" font-size="13.72" text-anchor="middle" style="stroke-width:0.1px">1</text>
<text transform="translate(1086.80,790.70) scale(1.0,1.12)" font-size="19.60" text-anchor="middle" style="stroke-width:0.0px">)</text>
</svg>
</body></html>
